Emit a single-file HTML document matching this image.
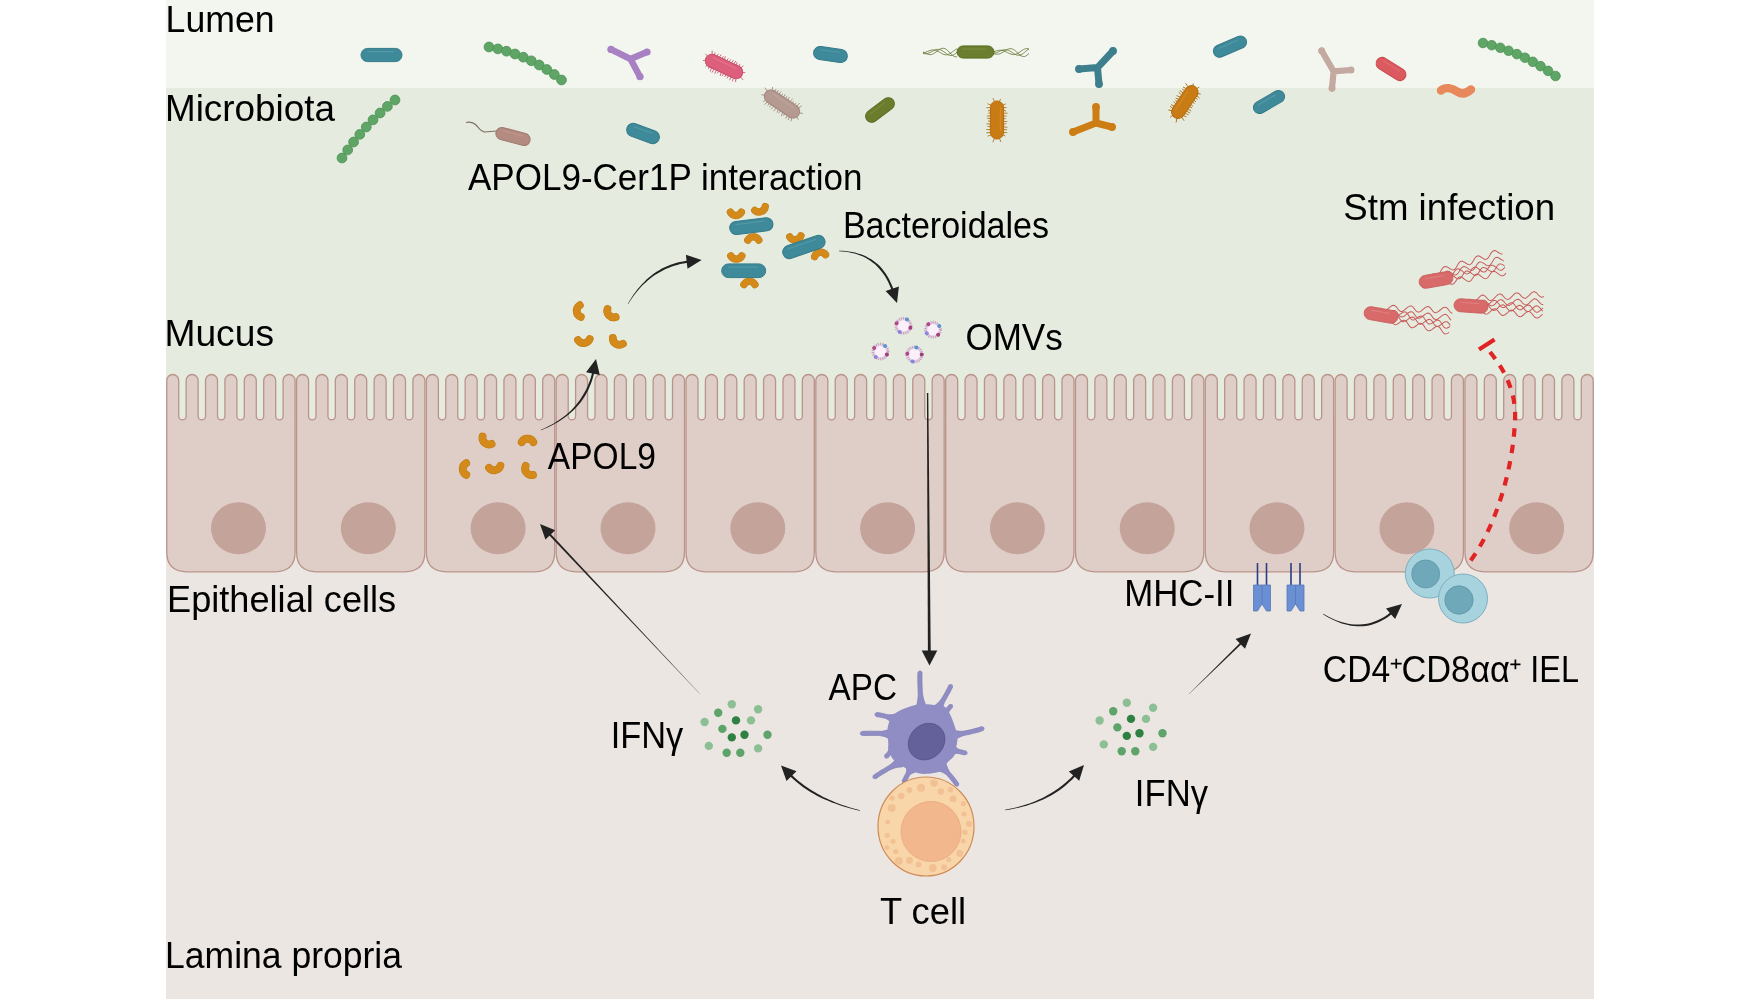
<!DOCTYPE html>
<html><head><meta charset="utf-8"><style>
html,body{margin:0;padding:0;background:#fff;width:1760px;height:1000px;overflow:hidden}
svg{display:block;will-change:transform}
text{font-family:"Liberation Sans",sans-serif;font-size:36.5px;fill:#000}
</style></head><body>
<svg width="1760" height="1000" viewBox="0 0 1760 1000">
<rect x="0" y="0" width="1760" height="1000" fill="#ffffff"/>
<rect x="166" y="0" width="1428" height="88" fill="#f3f6ef"/>
<rect x="166" y="88" width="1428" height="328" fill="#e5ecdf"/>
<rect x="166" y="416" width="1428" height="583" fill="#ebe6e2"/>
<path d="M166.75,551.80 L166.75,380.50 A5.99,5.99 0 0 1 178.74,380.50 L178.74,416.20 A3.70,3.70 0 0 0 186.14,416.20 L186.14,380.50 A5.99,5.99 0 0 1 198.13,380.50 L198.13,416.20 A3.70,3.70 0 0 0 205.53,416.20 L205.53,380.50 A5.99,5.99 0 0 1 217.51,380.50 L217.51,416.20 A3.70,3.70 0 0 0 224.91,416.20 L224.91,380.50 A5.99,5.99 0 0 1 236.90,380.50 L236.90,416.20 A3.70,3.70 0 0 0 244.30,416.20 L244.30,380.50 A5.99,5.99 0 0 1 256.29,380.50 L256.29,416.20 A3.70,3.70 0 0 0 263.69,416.20 L263.69,380.50 A5.99,5.99 0 0 1 275.68,380.50 L275.68,416.20 A3.70,3.70 0 0 0 283.08,416.20 L283.08,380.50 A5.99,5.99 0 0 1 295.07,380.50 L295.07,551.80 Q295.07,571.80 275.07,571.80 L186.75,571.80 Q166.75,571.80 166.75,551.80 Z" fill="#dfcec7" stroke="#b9948a" stroke-width="1.3"/>
<ellipse cx="238.5" cy="528.3" rx="27.5" ry="26" fill="#c3a39a"/>
<path d="M296.57,551.80 L296.57,380.50 A5.99,5.99 0 0 1 308.56,380.50 L308.56,416.20 A3.70,3.70 0 0 0 315.96,416.20 L315.96,380.50 A5.99,5.99 0 0 1 327.94,380.50 L327.94,416.20 A3.70,3.70 0 0 0 335.34,416.20 L335.34,380.50 A5.99,5.99 0 0 1 347.33,380.50 L347.33,416.20 A3.70,3.70 0 0 0 354.73,416.20 L354.73,380.50 A5.99,5.99 0 0 1 366.72,380.50 L366.72,416.20 A3.70,3.70 0 0 0 374.12,416.20 L374.12,380.50 A5.99,5.99 0 0 1 386.11,380.50 L386.11,416.20 A3.70,3.70 0 0 0 393.51,416.20 L393.51,380.50 A5.99,5.99 0 0 1 405.50,380.50 L405.50,416.20 A3.70,3.70 0 0 0 412.90,416.20 L412.90,380.50 A5.99,5.99 0 0 1 424.89,380.50 L424.89,551.80 Q424.89,571.80 404.89,571.80 L316.57,571.80 Q296.57,571.80 296.57,551.80 Z" fill="#dfcec7" stroke="#b9948a" stroke-width="1.3"/>
<ellipse cx="368.3" cy="528.3" rx="27.5" ry="26" fill="#c3a39a"/>
<path d="M426.39,551.80 L426.39,380.50 A5.99,5.99 0 0 1 438.37,380.50 L438.37,416.20 A3.70,3.70 0 0 0 445.77,416.20 L445.77,380.50 A5.99,5.99 0 0 1 457.76,380.50 L457.76,416.20 A3.70,3.70 0 0 0 465.16,416.20 L465.16,380.50 A5.99,5.99 0 0 1 477.15,380.50 L477.15,416.20 A3.70,3.70 0 0 0 484.55,416.20 L484.55,380.50 A5.99,5.99 0 0 1 496.54,380.50 L496.54,416.20 A3.70,3.70 0 0 0 503.94,416.20 L503.94,380.50 A5.99,5.99 0 0 1 515.93,380.50 L515.93,416.20 A3.70,3.70 0 0 0 523.33,416.20 L523.33,380.50 A5.99,5.99 0 0 1 535.32,380.50 L535.32,416.20 A3.70,3.70 0 0 0 542.72,416.20 L542.72,380.50 A5.99,5.99 0 0 1 554.70,380.50 L554.70,551.80 Q554.70,571.80 534.70,571.80 L446.39,571.80 Q426.39,571.80 426.39,551.80 Z" fill="#dfcec7" stroke="#b9948a" stroke-width="1.3"/>
<ellipse cx="498.1" cy="528.3" rx="27.5" ry="26" fill="#c3a39a"/>
<path d="M556.20,551.80 L556.20,380.50 A5.99,5.99 0 0 1 568.19,380.50 L568.19,416.20 A3.70,3.70 0 0 0 575.59,416.20 L575.59,380.50 A5.99,5.99 0 0 1 587.58,380.50 L587.58,416.20 A3.70,3.70 0 0 0 594.98,416.20 L594.98,380.50 A5.99,5.99 0 0 1 606.97,380.50 L606.97,416.20 A3.70,3.70 0 0 0 614.37,416.20 L614.37,380.50 A5.99,5.99 0 0 1 626.36,380.50 L626.36,416.20 A3.70,3.70 0 0 0 633.76,416.20 L633.76,380.50 A5.99,5.99 0 0 1 645.75,380.50 L645.75,416.20 A3.70,3.70 0 0 0 653.15,416.20 L653.15,380.50 A5.99,5.99 0 0 1 665.13,380.50 L665.13,416.20 A3.70,3.70 0 0 0 672.53,416.20 L672.53,380.50 A5.99,5.99 0 0 1 684.52,380.50 L684.52,551.80 Q684.52,571.80 664.52,571.80 L576.20,571.80 Q556.20,571.80 556.20,551.80 Z" fill="#dfcec7" stroke="#b9948a" stroke-width="1.3"/>
<ellipse cx="628.0" cy="528.3" rx="27.5" ry="26" fill="#c3a39a"/>
<path d="M686.02,551.80 L686.02,380.50 A5.99,5.99 0 0 1 698.01,380.50 L698.01,416.20 A3.70,3.70 0 0 0 705.41,416.20 L705.41,380.50 A5.99,5.99 0 0 1 717.40,380.50 L717.40,416.20 A3.70,3.70 0 0 0 724.80,416.20 L724.80,380.50 A5.99,5.99 0 0 1 736.79,380.50 L736.79,416.20 A3.70,3.70 0 0 0 744.19,416.20 L744.19,380.50 A5.99,5.99 0 0 1 756.18,380.50 L756.18,416.20 A3.70,3.70 0 0 0 763.58,416.20 L763.58,380.50 A5.99,5.99 0 0 1 775.56,380.50 L775.56,416.20 A3.70,3.70 0 0 0 782.96,416.20 L782.96,380.50 A5.99,5.99 0 0 1 794.95,380.50 L794.95,416.20 A3.70,3.70 0 0 0 802.35,416.20 L802.35,380.50 A5.99,5.99 0 0 1 814.34,380.50 L814.34,551.80 Q814.34,571.80 794.34,571.80 L706.02,571.80 Q686.02,571.80 686.02,551.80 Z" fill="#dfcec7" stroke="#b9948a" stroke-width="1.3"/>
<ellipse cx="757.8" cy="528.3" rx="27.5" ry="26" fill="#c3a39a"/>
<path d="M815.84,551.80 L815.84,380.50 A5.99,5.99 0 0 1 827.83,380.50 L827.83,416.20 A3.70,3.70 0 0 0 835.23,416.20 L835.23,380.50 A5.99,5.99 0 0 1 847.22,380.50 L847.22,416.20 A3.70,3.70 0 0 0 854.62,416.20 L854.62,380.50 A5.99,5.99 0 0 1 866.61,380.50 L866.61,416.20 A3.70,3.70 0 0 0 874.01,416.20 L874.01,380.50 A5.99,5.99 0 0 1 885.99,380.50 L885.99,416.20 A3.70,3.70 0 0 0 893.39,416.20 L893.39,380.50 A5.99,5.99 0 0 1 905.38,380.50 L905.38,416.20 A3.70,3.70 0 0 0 912.78,416.20 L912.78,380.50 A5.99,5.99 0 0 1 924.77,380.50 L924.77,416.20 A3.70,3.70 0 0 0 932.17,416.20 L932.17,380.50 A5.99,5.99 0 0 1 944.16,380.50 L944.16,551.80 Q944.16,571.80 924.16,571.80 L835.84,571.80 Q815.84,571.80 815.84,551.80 Z" fill="#dfcec7" stroke="#b9948a" stroke-width="1.3"/>
<ellipse cx="887.6" cy="528.3" rx="27.5" ry="26" fill="#c3a39a"/>
<path d="M945.66,551.80 L945.66,380.50 A5.99,5.99 0 0 1 957.65,380.50 L957.65,416.20 A3.70,3.70 0 0 0 965.05,416.20 L965.05,380.50 A5.99,5.99 0 0 1 977.04,380.50 L977.04,416.20 A3.70,3.70 0 0 0 984.44,416.20 L984.44,380.50 A5.99,5.99 0 0 1 996.42,380.50 L996.42,416.20 A3.70,3.70 0 0 0 1003.82,416.20 L1003.82,380.50 A5.99,5.99 0 0 1 1015.81,380.50 L1015.81,416.20 A3.70,3.70 0 0 0 1023.21,416.20 L1023.21,380.50 A5.99,5.99 0 0 1 1035.20,380.50 L1035.20,416.20 A3.70,3.70 0 0 0 1042.60,416.20 L1042.60,380.50 A5.99,5.99 0 0 1 1054.59,380.50 L1054.59,416.20 A3.70,3.70 0 0 0 1061.99,416.20 L1061.99,380.50 A5.99,5.99 0 0 1 1073.98,380.50 L1073.98,551.80 Q1073.98,571.80 1053.98,571.80 L965.66,571.80 Q945.66,571.80 945.66,551.80 Z" fill="#dfcec7" stroke="#b9948a" stroke-width="1.3"/>
<ellipse cx="1017.4" cy="528.3" rx="27.5" ry="26" fill="#c3a39a"/>
<path d="M1075.48,551.80 L1075.48,380.50 A5.99,5.99 0 0 1 1087.47,380.50 L1087.47,416.20 A3.70,3.70 0 0 0 1094.87,416.20 L1094.87,380.50 A5.99,5.99 0 0 1 1106.85,380.50 L1106.85,416.20 A3.70,3.70 0 0 0 1114.25,416.20 L1114.25,380.50 A5.99,5.99 0 0 1 1126.24,380.50 L1126.24,416.20 A3.70,3.70 0 0 0 1133.64,416.20 L1133.64,380.50 A5.99,5.99 0 0 1 1145.63,380.50 L1145.63,416.20 A3.70,3.70 0 0 0 1153.03,416.20 L1153.03,380.50 A5.99,5.99 0 0 1 1165.02,380.50 L1165.02,416.20 A3.70,3.70 0 0 0 1172.42,416.20 L1172.42,380.50 A5.99,5.99 0 0 1 1184.41,380.50 L1184.41,416.20 A3.70,3.70 0 0 0 1191.81,416.20 L1191.81,380.50 A5.99,5.99 0 0 1 1203.80,380.50 L1203.80,551.80 Q1203.80,571.80 1183.80,571.80 L1095.48,571.80 Q1075.48,571.80 1075.48,551.80 Z" fill="#dfcec7" stroke="#b9948a" stroke-width="1.3"/>
<ellipse cx="1147.2" cy="528.3" rx="27.5" ry="26" fill="#c3a39a"/>
<path d="M1205.30,551.80 L1205.30,380.50 A5.99,5.99 0 0 1 1217.28,380.50 L1217.28,416.20 A3.70,3.70 0 0 0 1224.68,416.20 L1224.68,380.50 A5.99,5.99 0 0 1 1236.67,380.50 L1236.67,416.20 A3.70,3.70 0 0 0 1244.07,416.20 L1244.07,380.50 A5.99,5.99 0 0 1 1256.06,380.50 L1256.06,416.20 A3.70,3.70 0 0 0 1263.46,416.20 L1263.46,380.50 A5.99,5.99 0 0 1 1275.45,380.50 L1275.45,416.20 A3.70,3.70 0 0 0 1282.85,416.20 L1282.85,380.50 A5.99,5.99 0 0 1 1294.84,380.50 L1294.84,416.20 A3.70,3.70 0 0 0 1302.24,416.20 L1302.24,380.50 A5.99,5.99 0 0 1 1314.23,380.50 L1314.23,416.20 A3.70,3.70 0 0 0 1321.63,416.20 L1321.63,380.50 A5.99,5.99 0 0 1 1333.61,380.50 L1333.61,551.80 Q1333.61,571.80 1313.61,571.80 L1225.30,571.80 Q1205.30,571.80 1205.30,551.80 Z" fill="#dfcec7" stroke="#b9948a" stroke-width="1.3"/>
<ellipse cx="1277.0" cy="528.3" rx="27.5" ry="26" fill="#c3a39a"/>
<path d="M1335.11,551.80 L1335.11,380.50 A5.99,5.99 0 0 1 1347.10,380.50 L1347.10,416.20 A3.70,3.70 0 0 0 1354.50,416.20 L1354.50,380.50 A5.99,5.99 0 0 1 1366.49,380.50 L1366.49,416.20 A3.70,3.70 0 0 0 1373.89,416.20 L1373.89,380.50 A5.99,5.99 0 0 1 1385.88,380.50 L1385.88,416.20 A3.70,3.70 0 0 0 1393.28,416.20 L1393.28,380.50 A5.99,5.99 0 0 1 1405.27,380.50 L1405.27,416.20 A3.70,3.70 0 0 0 1412.67,416.20 L1412.67,380.50 A5.99,5.99 0 0 1 1424.66,380.50 L1424.66,416.20 A3.70,3.70 0 0 0 1432.06,416.20 L1432.06,380.50 A5.99,5.99 0 0 1 1444.04,380.50 L1444.04,416.20 A3.70,3.70 0 0 0 1451.44,416.20 L1451.44,380.50 A5.99,5.99 0 0 1 1463.43,380.50 L1463.43,551.80 Q1463.43,571.80 1443.43,571.80 L1355.11,571.80 Q1335.11,571.80 1335.11,551.80 Z" fill="#dfcec7" stroke="#b9948a" stroke-width="1.3"/>
<ellipse cx="1406.9" cy="528.3" rx="27.5" ry="26" fill="#c3a39a"/>
<path d="M1464.93,551.80 L1464.93,380.50 A5.99,5.99 0 0 1 1476.92,380.50 L1476.92,416.20 A3.70,3.70 0 0 0 1484.32,416.20 L1484.32,380.50 A5.99,5.99 0 0 1 1496.31,380.50 L1496.31,416.20 A3.70,3.70 0 0 0 1503.71,416.20 L1503.71,380.50 A5.99,5.99 0 0 1 1515.70,380.50 L1515.70,416.20 A3.70,3.70 0 0 0 1523.10,416.20 L1523.10,380.50 A5.99,5.99 0 0 1 1535.09,380.50 L1535.09,416.20 A3.70,3.70 0 0 0 1542.49,416.20 L1542.49,380.50 A5.99,5.99 0 0 1 1554.47,380.50 L1554.47,416.20 A3.70,3.70 0 0 0 1561.87,416.20 L1561.87,380.50 A5.99,5.99 0 0 1 1573.86,380.50 L1573.86,416.20 A3.70,3.70 0 0 0 1581.26,416.20 L1581.26,380.50 A5.99,5.99 0 0 1 1593.25,380.50 L1593.25,551.80 Q1593.25,571.80 1573.25,571.80 L1484.93,571.80 Q1464.93,571.80 1464.93,551.80 Z" fill="#dfcec7" stroke="#b9948a" stroke-width="1.3"/>
<ellipse cx="1536.7" cy="528.3" rx="27.5" ry="26" fill="#c3a39a"/>
<g transform="translate(381.5,55.0) rotate(0.0)"><rect x="-20.5" y="-6.6" width="41.0" height="13.2" rx="6.6" fill="#3f8a9a" stroke="#347a89" stroke-width="1"/><line x1="-13.9" y1="-3.4" x2="11.9" y2="-3.4" stroke="#6aaab6" stroke-width="1.1" stroke-linecap="round" opacity="0.45"/></g>
<circle cx="489.0" cy="47.0" r="4.9" fill="#5ea566" stroke="#4d9257" stroke-width="0.8"/><circle cx="497.9" cy="48.9" r="4.9" fill="#5ea566" stroke="#4d9257" stroke-width="0.8"/><circle cx="506.5" cy="51.2" r="4.9" fill="#5ea566" stroke="#4d9257" stroke-width="0.8"/><circle cx="515.0" cy="54.0" r="4.9" fill="#5ea566" stroke="#4d9257" stroke-width="0.8"/><circle cx="523.3" cy="57.2" r="4.9" fill="#5ea566" stroke="#4d9257" stroke-width="0.8"/><circle cx="531.3" cy="60.8" r="4.9" fill="#5ea566" stroke="#4d9257" stroke-width="0.8"/><circle cx="539.2" cy="65.0" r="4.9" fill="#5ea566" stroke="#4d9257" stroke-width="0.8"/><circle cx="546.8" cy="69.5" r="4.9" fill="#5ea566" stroke="#4d9257" stroke-width="0.8"/><circle cx="554.3" cy="74.5" r="4.9" fill="#5ea566" stroke="#4d9257" stroke-width="0.8"/><circle cx="561.5" cy="80.0" r="4.9" fill="#5ea566" stroke="#4d9257" stroke-width="0.8"/>
<circle cx="342.0" cy="158.0" r="4.9" fill="#5ea566" stroke="#4d9257" stroke-width="0.8"/><circle cx="347.7" cy="149.9" r="4.9" fill="#5ea566" stroke="#4d9257" stroke-width="0.8"/><circle cx="353.6" cy="142.0" r="4.9" fill="#5ea566" stroke="#4d9257" stroke-width="0.8"/><circle cx="359.8" cy="134.4" r="4.9" fill="#5ea566" stroke="#4d9257" stroke-width="0.8"/><circle cx="366.3" cy="127.0" r="4.9" fill="#5ea566" stroke="#4d9257" stroke-width="0.8"/><circle cx="373.0" cy="119.9" r="4.9" fill="#5ea566" stroke="#4d9257" stroke-width="0.8"/><circle cx="380.1" cy="113.0" r="4.9" fill="#5ea566" stroke="#4d9257" stroke-width="0.8"/><circle cx="387.4" cy="106.4" r="4.9" fill="#5ea566" stroke="#4d9257" stroke-width="0.8"/><circle cx="395.0" cy="100.0" r="4.9" fill="#5ea566" stroke="#4d9257" stroke-width="0.8"/>
<path d="M466,122.5 C470,121.5 473,122 476,125 C479,128 481,132 485,132 C489,132 492,131 497,131" stroke="#7f6e64" stroke-width="1.1" fill="none"/>
<g transform="translate(513.0,136.5) rotate(15.0)"><rect x="-17.5" y="-6.1" width="35.0" height="12.2" rx="6.1" fill="#b38b80" stroke="#a07a70" stroke-width="1"/><line x1="-11.4" y1="-2.9" x2="9.4" y2="-2.9" stroke="#c9a59b" stroke-width="1.1" stroke-linecap="round" opacity="0.45"/></g>
<path d="M630.5,59.0 L611.0,49.4 M630.5,59.0 L647.0,52.0 M630.5,59.0 L640.0,76.7" stroke="#a880c4" stroke-width="6.5" stroke-linecap="round" stroke-linejoin="round" fill="none"/>
<circle cx="611.0" cy="49.4" r="3.6" fill="#a880c4"/><circle cx="647.0" cy="52.0" r="3.6" fill="#a880c4"/><circle cx="640.0" cy="76.7" r="3.6" fill="#a880c4"/>
<g transform="translate(724.0,66.5) rotate(25.0)"><line x1="-13.4" y1="-6.6" x2="-14.0" y2="-8.9" stroke="#c8566e" stroke-width="0.8"/><line x1="-13.4" y1="6.6" x2="-13.1" y2="8.7" stroke="#c8566e" stroke-width="0.8"/><line x1="-10.7" y1="-6.6" x2="-10.3" y2="-9.2" stroke="#c8566e" stroke-width="0.8"/><line x1="-10.7" y1="6.6" x2="-10.3" y2="10.5" stroke="#c8566e" stroke-width="0.8"/><line x1="-8.0" y1="-6.6" x2="-7.7" y2="-9.5" stroke="#c8566e" stroke-width="0.8"/><line x1="-8.0" y1="6.6" x2="-8.3" y2="10.6" stroke="#c8566e" stroke-width="0.8"/><line x1="-5.4" y1="-6.6" x2="-4.8" y2="-9.1" stroke="#c8566e" stroke-width="0.8"/><line x1="-5.4" y1="6.6" x2="-5.4" y2="10.5" stroke="#c8566e" stroke-width="0.8"/><line x1="-2.7" y1="-6.6" x2="-3.0" y2="-9.8" stroke="#c8566e" stroke-width="0.8"/><line x1="-2.7" y1="6.6" x2="-3.3" y2="9.2" stroke="#c8566e" stroke-width="0.8"/><line x1="0.0" y1="-6.6" x2="0.5" y2="-9.2" stroke="#c8566e" stroke-width="0.8"/><line x1="0.0" y1="6.6" x2="0.5" y2="10.2" stroke="#c8566e" stroke-width="0.8"/><line x1="2.7" y1="-6.6" x2="3.1" y2="-9.3" stroke="#c8566e" stroke-width="0.8"/><line x1="2.7" y1="6.6" x2="2.3" y2="9.6" stroke="#c8566e" stroke-width="0.8"/><line x1="5.4" y1="-6.6" x2="5.8" y2="-9.7" stroke="#c8566e" stroke-width="0.8"/><line x1="5.4" y1="6.6" x2="5.0" y2="9.3" stroke="#c8566e" stroke-width="0.8"/><line x1="8.0" y1="-6.6" x2="8.4" y2="-10.1" stroke="#c8566e" stroke-width="0.8"/><line x1="8.0" y1="6.6" x2="7.7" y2="9.5" stroke="#c8566e" stroke-width="0.8"/><line x1="10.7" y1="-6.6" x2="10.0" y2="-9.5" stroke="#c8566e" stroke-width="0.8"/><line x1="10.7" y1="6.6" x2="10.9" y2="10.1" stroke="#c8566e" stroke-width="0.8"/><line x1="13.4" y1="-6.6" x2="13.5" y2="-9.2" stroke="#c8566e" stroke-width="0.8"/><line x1="13.4" y1="6.6" x2="13.9" y2="9.9" stroke="#c8566e" stroke-width="0.8"/><line x1="-16.0" y1="-6.1" x2="-17.4" y2="-9.4" stroke="#c8566e" stroke-width="0.8"/><line x1="16.0" y1="-6.1" x2="17.2" y2="-8.9" stroke="#c8566e" stroke-width="0.8"/><line x1="-19.5" y1="-2.5" x2="-22.3" y2="-3.6" stroke="#c8566e" stroke-width="0.8"/><line x1="19.5" y1="-2.5" x2="21.9" y2="-3.4" stroke="#c8566e" stroke-width="0.8"/><line x1="-19.5" y1="2.6" x2="-21.6" y2="3.5" stroke="#c8566e" stroke-width="0.8"/><line x1="19.5" y1="2.6" x2="23.1" y2="4.1" stroke="#c8566e" stroke-width="0.8"/><line x1="-15.9" y1="6.1" x2="-16.7" y2="8.1" stroke="#c8566e" stroke-width="0.8"/><line x1="15.9" y1="6.1" x2="17.1" y2="9.2" stroke="#c8566e" stroke-width="0.8"/><rect x="-20.0" y="-6.6" width="40.0" height="13.2" rx="6.6" fill="#de5f7b" stroke="#c54c68" stroke-width="1"/><line x1="-13.4" y1="-3.4" x2="11.4" y2="-3.4" stroke="#ef8da0" stroke-width="1.1" stroke-linecap="round" opacity="0.45"/></g>
<g transform="translate(830.5,54.5) rotate(8.0)"><rect x="-17.0" y="-6.6" width="34.0" height="13.2" rx="6.6" fill="#3f8a9a" stroke="#347a89" stroke-width="1"/><line x1="-10.4" y1="-3.4" x2="8.4" y2="-3.4" stroke="#6aaab6" stroke-width="1.1" stroke-linecap="round" opacity="0.45"/></g>
<g transform="translate(782.0,104.0) rotate(34.0)"><line x1="-13.4" y1="-6.6" x2="-13.2" y2="-9.3" stroke="#a5857b" stroke-width="0.8"/><line x1="-13.4" y1="6.6" x2="-14.1" y2="10.3" stroke="#a5857b" stroke-width="0.8"/><line x1="-10.7" y1="-6.6" x2="-10.6" y2="-9.4" stroke="#a5857b" stroke-width="0.8"/><line x1="-10.7" y1="6.6" x2="-10.9" y2="9.3" stroke="#a5857b" stroke-width="0.8"/><line x1="-8.0" y1="-6.6" x2="-7.9" y2="-9.8" stroke="#a5857b" stroke-width="0.8"/><line x1="-8.0" y1="6.6" x2="-8.7" y2="9.7" stroke="#a5857b" stroke-width="0.8"/><line x1="-5.4" y1="-6.6" x2="-4.9" y2="-9.0" stroke="#a5857b" stroke-width="0.8"/><line x1="-5.4" y1="6.6" x2="-6.0" y2="10.5" stroke="#a5857b" stroke-width="0.8"/><line x1="-2.7" y1="-6.6" x2="-2.6" y2="-9.9" stroke="#a5857b" stroke-width="0.8"/><line x1="-2.7" y1="6.6" x2="-2.8" y2="10.6" stroke="#a5857b" stroke-width="0.8"/><line x1="0.0" y1="-6.6" x2="-0.3" y2="-9.1" stroke="#a5857b" stroke-width="0.8"/><line x1="0.0" y1="6.6" x2="0.6" y2="9.9" stroke="#a5857b" stroke-width="0.8"/><line x1="2.7" y1="-6.6" x2="2.2" y2="-9.8" stroke="#a5857b" stroke-width="0.8"/><line x1="2.7" y1="6.6" x2="2.2" y2="9.9" stroke="#a5857b" stroke-width="0.8"/><line x1="5.4" y1="-6.6" x2="5.9" y2="-10.4" stroke="#a5857b" stroke-width="0.8"/><line x1="5.4" y1="6.6" x2="6.1" y2="10.6" stroke="#a5857b" stroke-width="0.8"/><line x1="8.0" y1="-6.6" x2="8.0" y2="-8.9" stroke="#a5857b" stroke-width="0.8"/><line x1="8.0" y1="6.6" x2="7.3" y2="9.1" stroke="#a5857b" stroke-width="0.8"/><line x1="10.7" y1="-6.6" x2="10.8" y2="-8.8" stroke="#a5857b" stroke-width="0.8"/><line x1="10.7" y1="6.6" x2="11.2" y2="10.0" stroke="#a5857b" stroke-width="0.8"/><line x1="13.4" y1="-6.6" x2="14.1" y2="-10.8" stroke="#a5857b" stroke-width="0.8"/><line x1="13.4" y1="6.6" x2="13.9" y2="10.0" stroke="#a5857b" stroke-width="0.8"/><line x1="-16.0" y1="-6.1" x2="-17.2" y2="-8.9" stroke="#a5857b" stroke-width="0.8"/><line x1="16.0" y1="-6.1" x2="17.4" y2="-9.4" stroke="#a5857b" stroke-width="0.8"/><line x1="-19.5" y1="-2.5" x2="-23.3" y2="-4.0" stroke="#a5857b" stroke-width="0.8"/><line x1="19.5" y1="-2.5" x2="22.6" y2="-3.7" stroke="#a5857b" stroke-width="0.8"/><line x1="-19.5" y1="2.6" x2="-22.2" y2="3.7" stroke="#a5857b" stroke-width="0.8"/><line x1="19.5" y1="2.6" x2="22.3" y2="3.8" stroke="#a5857b" stroke-width="0.8"/><line x1="-15.9" y1="6.1" x2="-16.9" y2="8.5" stroke="#a5857b" stroke-width="0.8"/><line x1="15.9" y1="6.1" x2="17.1" y2="9.3" stroke="#a5857b" stroke-width="0.8"/><rect x="-20.0" y="-6.6" width="40.0" height="13.2" rx="6.6" fill="#b59a91" stroke="#a3877e" stroke-width="1"/><line x1="-13.4" y1="-3.4" x2="11.4" y2="-3.4" stroke="#c9b2aa" stroke-width="1.1" stroke-linecap="round" opacity="0.45"/></g>
<g transform="translate(880.0,110.0) rotate(-37.0)"><rect x="-16.5" y="-6.1" width="33.0" height="12.2" rx="6.1" fill="#6b7d2d" stroke="#5b6c22" stroke-width="1"/><line x1="-10.4" y1="-2.9" x2="8.4" y2="-2.9" stroke="#8b9c4e" stroke-width="1.1" stroke-linecap="round" opacity="0.45"/></g>
<g transform="translate(643.0,133.5) rotate(20.0)"><rect x="-17.0" y="-6.6" width="34.0" height="13.2" rx="6.6" fill="#3f8a9a" stroke="#347a89" stroke-width="1"/><line x1="-10.4" y1="-3.4" x2="8.4" y2="-3.4" stroke="#6aaab6" stroke-width="1.1" stroke-linecap="round" opacity="0.45"/></g>
<polyline points="923.0,52.0 923.9,52.4 924.7,52.9 925.6,53.3 926.5,53.7 927.4,54.1 928.2,54.3 929.1,54.5 930.0,54.6 930.8,54.6 931.7,54.4 932.6,54.1 933.5,53.7 934.3,53.2 935.2,52.6 936.1,52.0 936.9,51.3 937.8,50.7 938.7,50.0 939.6,49.4 940.4,48.9 941.3,48.6 942.2,48.3 943.1,48.3 943.9,48.3 944.8,48.6 945.7,49.0 946.5,49.6 947.4,50.3 948.3,51.1 949.2,52.0 950.0,52.9 950.9,53.8 951.8,54.7 952.6,55.4 953.5,56.1 954.4,56.5 955.3,56.8 956.1,56.9 957.0,56.8" fill="none" stroke="#5e6e2a" stroke-width="0.8"/><polyline points="994.0,53.7 994.9,53.9 995.8,54.1 996.7,54.2 997.6,54.2 998.5,54.1 999.4,53.9 1000.3,53.6 1001.2,53.2 1002.1,52.7 1003.0,52.1 1003.9,51.5 1004.8,50.9 1005.7,50.4 1006.6,49.8 1007.5,49.3 1008.4,49.0 1009.3,48.7 1010.2,48.6 1011.1,48.7 1011.9,48.9 1012.8,49.2 1013.7,49.7 1014.6,50.3 1015.5,51.0 1016.4,51.8 1017.3,52.6 1018.2,53.5 1019.1,54.3 1020.0,55.0 1020.9,55.6 1021.8,56.1 1022.7,56.4 1023.6,56.5 1024.5,56.5 1025.4,56.2 1026.3,55.7 1027.2,55.0 1028.1,54.2 1029.0,53.3" fill="none" stroke="#5e6e2a" stroke-width="0.8"/><polyline points="923.0,53.5 923.9,53.6 924.7,53.7 925.6,53.7 926.5,53.6 927.4,53.5 928.2,53.2 929.1,52.9 930.0,52.6 930.8,52.1 931.7,51.7 932.6,51.2 933.5,50.7 934.3,50.3 935.2,49.9 936.1,49.6 936.9,49.4 937.8,49.4 938.7,49.4 939.6,49.5 940.4,49.8 941.3,50.2 942.2,50.6 943.1,51.2 943.9,51.8 944.8,52.5 945.7,53.1 946.5,53.8 947.4,54.3 948.3,54.8 949.2,55.2 950.0,55.5 950.9,55.6 951.8,55.5 952.6,55.3 953.5,54.9 954.4,54.4 955.3,53.8 956.1,53.0 957.0,52.2" fill="none" stroke="#5e6e2a" stroke-width="0.8"/><polyline points="994.0,53.3 994.9,53.1 995.8,52.9 996.7,52.5 997.6,52.2 998.5,51.8 999.4,51.4 1000.3,51.0 1001.2,50.6 1002.1,50.3 1003.0,50.0 1003.9,49.8 1004.8,49.7 1005.7,49.7 1006.6,49.8 1007.5,50.0 1008.4,50.3 1009.3,50.7 1010.2,51.2 1011.1,51.7 1011.9,52.3 1012.8,52.9 1013.7,53.5 1014.6,54.0 1015.5,54.5 1016.4,54.9 1017.3,55.1 1018.2,55.3 1019.1,55.2 1020.0,55.1 1020.9,54.8 1021.8,54.3 1022.7,53.8 1023.6,53.1 1024.5,52.4 1025.4,51.6 1026.3,50.8 1027.2,50.1 1028.1,49.4 1029.0,48.8" fill="none" stroke="#5e6e2a" stroke-width="0.8"/><polyline points="923.0,52.9 923.9,52.7 924.7,52.5 925.6,52.2 926.5,51.8 927.4,51.5 928.2,51.2 929.1,50.8 930.0,50.5 930.8,50.3 931.7,50.1 932.6,50.0 933.5,50.0 934.3,50.1 935.2,50.2 936.1,50.5 936.9,50.9 937.8,51.3 938.7,51.7 939.6,52.2 940.4,52.7 941.3,53.2 942.2,53.7 943.1,54.1 943.9,54.5 944.8,54.7 945.7,54.8 946.5,54.8 947.4,54.7 948.3,54.4 949.2,54.0 950.0,53.6 950.9,53.0 951.8,52.4 952.6,51.7 953.5,51.0 954.4,50.4 955.3,49.8 956.1,49.2 957.0,48.8" fill="none" stroke="#5e6e2a" stroke-width="0.8"/><polyline points="994.0,51.6 994.9,51.3 995.8,51.1 996.7,50.8 997.6,50.6 998.5,50.4 999.4,50.3 1000.3,50.2 1001.2,50.3 1002.1,50.4 1003.0,50.6 1003.9,50.9 1004.8,51.3 1005.7,51.7 1006.6,52.1 1007.5,52.6 1008.4,53.0 1009.3,53.5 1010.2,53.8 1011.1,54.2 1011.9,54.4 1012.8,54.5 1013.7,54.6 1014.6,54.5 1015.5,54.3 1016.4,53.9 1017.3,53.5 1018.2,53.0 1019.1,52.5 1020.0,51.9 1020.9,51.2 1021.8,50.6 1022.7,50.0 1023.6,49.5 1024.5,49.1 1025.4,48.8 1026.3,48.7 1027.2,48.6 1028.1,48.8 1029.0,49.1" fill="none" stroke="#5e6e2a" stroke-width="0.8"/>
<g transform="translate(975.5,52.0) rotate(0.0)"><rect x="-18.5" y="-6.1" width="37.0" height="12.2" rx="6.1" fill="#6b7d2e" stroke="#5b6c22" stroke-width="1"/><line x1="-12.4" y1="-2.9" x2="10.4" y2="-2.9" stroke="#8b9c4e" stroke-width="1.1" stroke-linecap="round" opacity="0.45"/></g>
<path d="M1097.5,67.6 L1113.0,51.0 M1097.5,67.6 L1079.0,69.0 M1097.5,67.6 L1099.0,84.0" stroke="#3d7f8d" stroke-width="7" stroke-linecap="round" stroke-linejoin="round" fill="none"/>
<circle cx="1113.0" cy="51.0" r="3.9" fill="#3d7f8d"/><circle cx="1079.0" cy="69.0" r="3.9" fill="#3d7f8d"/><circle cx="1099.0" cy="84.0" r="3.9" fill="#3d7f8d"/>
<g transform="translate(997.0,120.0) rotate(90.0)"><line x1="-12.4" y1="-6.6" x2="-12.5" y2="-9.5" stroke="#a8650c" stroke-width="0.8"/><line x1="-12.4" y1="6.6" x2="-12.3" y2="10.5" stroke="#a8650c" stroke-width="0.8"/><line x1="-9.6" y1="-6.6" x2="-9.0" y2="-9.1" stroke="#a8650c" stroke-width="0.8"/><line x1="-9.6" y1="6.6" x2="-9.1" y2="9.0" stroke="#a8650c" stroke-width="0.8"/><line x1="-6.9" y1="-6.6" x2="-6.7" y2="-10.6" stroke="#a8650c" stroke-width="0.8"/><line x1="-6.9" y1="6.6" x2="-6.9" y2="8.7" stroke="#a8650c" stroke-width="0.8"/><line x1="-4.1" y1="-6.6" x2="-3.8" y2="-9.6" stroke="#a8650c" stroke-width="0.8"/><line x1="-4.1" y1="6.6" x2="-3.9" y2="10.2" stroke="#a8650c" stroke-width="0.8"/><line x1="-1.4" y1="-6.6" x2="-1.3" y2="-8.8" stroke="#a8650c" stroke-width="0.8"/><line x1="-1.4" y1="6.6" x2="-1.7" y2="9.9" stroke="#a8650c" stroke-width="0.8"/><line x1="1.4" y1="-6.6" x2="1.7" y2="-10.3" stroke="#a8650c" stroke-width="0.8"/><line x1="1.4" y1="6.6" x2="0.9" y2="9.0" stroke="#a8650c" stroke-width="0.8"/><line x1="4.1" y1="-6.6" x2="3.7" y2="-9.3" stroke="#a8650c" stroke-width="0.8"/><line x1="4.1" y1="6.6" x2="3.8" y2="10.5" stroke="#a8650c" stroke-width="0.8"/><line x1="6.9" y1="-6.6" x2="7.3" y2="-10.4" stroke="#a8650c" stroke-width="0.8"/><line x1="6.9" y1="6.6" x2="6.2" y2="9.6" stroke="#a8650c" stroke-width="0.8"/><line x1="9.6" y1="-6.6" x2="9.7" y2="-10.1" stroke="#a8650c" stroke-width="0.8"/><line x1="9.6" y1="6.6" x2="9.5" y2="10.7" stroke="#a8650c" stroke-width="0.8"/><line x1="12.4" y1="-6.6" x2="12.7" y2="-10.3" stroke="#a8650c" stroke-width="0.8"/><line x1="12.4" y1="6.6" x2="12.9" y2="10.8" stroke="#a8650c" stroke-width="0.8"/><line x1="-15.0" y1="-6.1" x2="-16.2" y2="-8.9" stroke="#a8650c" stroke-width="0.8"/><line x1="15.0" y1="-6.1" x2="16.0" y2="-8.4" stroke="#a8650c" stroke-width="0.8"/><line x1="-18.5" y1="-2.5" x2="-21.1" y2="-3.5" stroke="#a8650c" stroke-width="0.8"/><line x1="18.5" y1="-2.5" x2="22.0" y2="-3.9" stroke="#a8650c" stroke-width="0.8"/><line x1="-18.5" y1="2.6" x2="-21.8" y2="4.0" stroke="#a8650c" stroke-width="0.8"/><line x1="18.5" y1="2.6" x2="22.3" y2="4.2" stroke="#a8650c" stroke-width="0.8"/><line x1="-14.9" y1="6.1" x2="-16.3" y2="9.6" stroke="#a8650c" stroke-width="0.8"/><line x1="14.9" y1="6.1" x2="16.2" y2="9.4" stroke="#a8650c" stroke-width="0.8"/><rect x="-19.0" y="-6.6" width="38.0" height="13.2" rx="6.6" fill="#c97b14" stroke="#b56c0c" stroke-width="1"/><line x1="-12.4" y1="-3.4" x2="10.4" y2="-3.4" stroke="#dd9a40" stroke-width="1.1" stroke-linecap="round" opacity="0.45"/></g>
<path d="M1096.0,123.0 L1096.0,107.0 M1096.0,123.0 L1073.0,132.0 M1096.0,123.0 L1112.0,127.0" stroke="#cc7d14" stroke-width="7" stroke-linecap="round" stroke-linejoin="round" fill="none"/>
<circle cx="1096.0" cy="107.0" r="3.9" fill="#cc7d14"/><circle cx="1073.0" cy="132.0" r="3.9" fill="#cc7d14"/><circle cx="1112.0" cy="127.0" r="3.9" fill="#cc7d14"/>
<g transform="translate(1230.0,46.6) rotate(-23.0)"><rect x="-17.5" y="-6.1" width="35.0" height="12.2" rx="6.1" fill="#3f8a9a" stroke="#347a89" stroke-width="1"/><line x1="-11.4" y1="-2.9" x2="9.4" y2="-2.9" stroke="#6aaab6" stroke-width="1.1" stroke-linecap="round" opacity="0.45"/></g>
<g transform="translate(1184.8,102.0) rotate(-56.0)"><line x1="-11.9" y1="-6.6" x2="-11.8" y2="-9.8" stroke="#a8650c" stroke-width="0.8"/><line x1="-11.9" y1="6.6" x2="-11.5" y2="9.7" stroke="#a8650c" stroke-width="0.8"/><line x1="-9.3" y1="-6.6" x2="-9.9" y2="-9.9" stroke="#a8650c" stroke-width="0.8"/><line x1="-9.3" y1="6.6" x2="-8.6" y2="10.3" stroke="#a8650c" stroke-width="0.8"/><line x1="-6.6" y1="-6.6" x2="-5.9" y2="-9.6" stroke="#a8650c" stroke-width="0.8"/><line x1="-6.6" y1="6.6" x2="-6.2" y2="10.6" stroke="#a8650c" stroke-width="0.8"/><line x1="-4.0" y1="-6.6" x2="-3.8" y2="-8.9" stroke="#a8650c" stroke-width="0.8"/><line x1="-4.0" y1="6.6" x2="-4.0" y2="10.3" stroke="#a8650c" stroke-width="0.8"/><line x1="-1.3" y1="-6.6" x2="-1.9" y2="-9.8" stroke="#a8650c" stroke-width="0.8"/><line x1="-1.3" y1="6.6" x2="-0.8" y2="9.4" stroke="#a8650c" stroke-width="0.8"/><line x1="1.3" y1="-6.6" x2="0.8" y2="-10.4" stroke="#a8650c" stroke-width="0.8"/><line x1="1.3" y1="6.6" x2="1.1" y2="9.2" stroke="#a8650c" stroke-width="0.8"/><line x1="4.0" y1="-6.6" x2="4.7" y2="-10.5" stroke="#a8650c" stroke-width="0.8"/><line x1="4.0" y1="6.6" x2="4.4" y2="8.9" stroke="#a8650c" stroke-width="0.8"/><line x1="6.6" y1="-6.6" x2="6.7" y2="-10.6" stroke="#a8650c" stroke-width="0.8"/><line x1="6.6" y1="6.6" x2="6.4" y2="9.2" stroke="#a8650c" stroke-width="0.8"/><line x1="9.3" y1="-6.6" x2="9.3" y2="-9.3" stroke="#a8650c" stroke-width="0.8"/><line x1="9.3" y1="6.6" x2="9.3" y2="9.1" stroke="#a8650c" stroke-width="0.8"/><line x1="11.9" y1="-6.6" x2="11.4" y2="-9.9" stroke="#a8650c" stroke-width="0.8"/><line x1="11.9" y1="6.6" x2="11.5" y2="10.0" stroke="#a8650c" stroke-width="0.8"/><line x1="-14.5" y1="-6.1" x2="-15.8" y2="-9.2" stroke="#a8650c" stroke-width="0.8"/><line x1="14.5" y1="-6.1" x2="16.0" y2="-9.8" stroke="#a8650c" stroke-width="0.8"/><line x1="-18.0" y1="-2.5" x2="-20.7" y2="-3.6" stroke="#a8650c" stroke-width="0.8"/><line x1="18.0" y1="-2.5" x2="20.1" y2="-3.3" stroke="#a8650c" stroke-width="0.8"/><line x1="-18.0" y1="2.6" x2="-21.8" y2="4.2" stroke="#a8650c" stroke-width="0.8"/><line x1="18.0" y1="2.6" x2="20.5" y2="3.6" stroke="#a8650c" stroke-width="0.8"/><line x1="-14.4" y1="6.1" x2="-15.9" y2="9.9" stroke="#a8650c" stroke-width="0.8"/><line x1="14.4" y1="6.1" x2="15.4" y2="8.8" stroke="#a8650c" stroke-width="0.8"/><rect x="-18.5" y="-6.6" width="37.0" height="13.2" rx="6.6" fill="#c97b14" stroke="#b56c0c" stroke-width="1"/><line x1="-11.9" y1="-3.4" x2="9.9" y2="-3.4" stroke="#dd9a40" stroke-width="1.1" stroke-linecap="round" opacity="0.45"/></g>
<g transform="translate(1269.0,102.0) rotate(-30.0)"><rect x="-17.0" y="-6.1" width="34.0" height="12.2" rx="6.1" fill="#3f8a9a" stroke="#347a89" stroke-width="1"/><line x1="-10.9" y1="-2.9" x2="8.9" y2="-2.9" stroke="#6aaab6" stroke-width="1.1" stroke-linecap="round" opacity="0.45"/></g>
<path d="M1333.6,71.4 L1321.7,50.7 M1333.6,71.4 L1351.0,70.0 M1333.6,71.4 L1332.0,88.3" stroke="#c4a9a1" stroke-width="6.2" stroke-linecap="round" stroke-linejoin="round" fill="none"/>
<circle cx="1321.7" cy="50.7" r="3.5" fill="#c4a9a1"/><circle cx="1351.0" cy="70.0" r="3.5" fill="#c4a9a1"/><circle cx="1332.0" cy="88.3" r="3.5" fill="#c4a9a1"/>
<g transform="translate(1391.0,69.0) rotate(32.0)"><rect x="-16.5" y="-6.1" width="33.0" height="12.2" rx="6.1" fill="#db5a5f" stroke="#c84b50" stroke-width="1"/><line x1="-10.4" y1="-2.9" x2="8.4" y2="-2.9" stroke="#e98488" stroke-width="1.1" stroke-linecap="round" opacity="0.45"/></g>
<circle cx="1483.0" cy="43.0" r="4.8" fill="#5ea566" stroke="#4d9257" stroke-width="0.8"/><circle cx="1491.7" cy="45.2" r="4.8" fill="#5ea566" stroke="#4d9257" stroke-width="0.8"/><circle cx="1500.3" cy="47.8" r="4.8" fill="#5ea566" stroke="#4d9257" stroke-width="0.8"/><circle cx="1508.6" cy="50.8" r="4.8" fill="#5ea566" stroke="#4d9257" stroke-width="0.8"/><circle cx="1516.9" cy="54.1" r="4.8" fill="#5ea566" stroke="#4d9257" stroke-width="0.8"/><circle cx="1524.9" cy="57.7" r="4.8" fill="#5ea566" stroke="#4d9257" stroke-width="0.8"/><circle cx="1532.8" cy="61.8" r="4.8" fill="#5ea566" stroke="#4d9257" stroke-width="0.8"/><circle cx="1540.5" cy="66.1" r="4.8" fill="#5ea566" stroke="#4d9257" stroke-width="0.8"/><circle cx="1548.1" cy="70.9" r="4.8" fill="#5ea566" stroke="#4d9257" stroke-width="0.8"/><circle cx="1555.5" cy="76.0" r="4.8" fill="#5ea566" stroke="#4d9257" stroke-width="0.8"/>
<path d="M1441,90.5 C1445,86.5 1452,88 1458,92 C1463,95 1467,93 1471,89.5" stroke="#e8895c" stroke-width="8.5" stroke-linecap="round" fill="none"/>
<path d="M491.6,443.9 A6.6,6.6 0 0 1 482.6,436.5" stroke="#bf7a12" stroke-width="7.8" stroke-linecap="round" fill="none"/><path d="M491.6,443.9 A6.6,6.6 0 0 1 482.6,436.5" stroke="#d38a1a" stroke-width="6.8" stroke-linecap="round" fill="none"/>
<path d="M521.7,442.2 A6.6,6.6 0 0 1 533.3,442.2" stroke="#bf7a12" stroke-width="7.8" stroke-linecap="round" fill="none"/><path d="M521.7,442.2 A6.6,6.6 0 0 1 533.3,442.2" stroke="#d38a1a" stroke-width="6.8" stroke-linecap="round" fill="none"/>
<path d="M466.2,474.8 A6.6,6.6 0 0 1 466.2,463.2" stroke="#bf7a12" stroke-width="7.8" stroke-linecap="round" fill="none"/><path d="M466.2,474.8 A6.6,6.6 0 0 1 466.2,463.2" stroke="#d38a1a" stroke-width="6.8" stroke-linecap="round" fill="none"/>
<path d="M500.4,465.8 A6.6,6.6 0 0 1 489.0,467.8" stroke="#bf7a12" stroke-width="7.8" stroke-linecap="round" fill="none"/><path d="M500.4,465.8 A6.6,6.6 0 0 1 489.0,467.8" stroke="#d38a1a" stroke-width="6.8" stroke-linecap="round" fill="none"/>
<path d="M533.0,474.9 A6.6,6.6 0 0 1 525.6,465.9" stroke="#bf7a12" stroke-width="7.8" stroke-linecap="round" fill="none"/><path d="M533.0,474.9 A6.6,6.6 0 0 1 525.6,465.9" stroke="#d38a1a" stroke-width="6.8" stroke-linecap="round" fill="none"/>
<path d="M580.8,316.9 A6.6,6.6 0 0 1 579.8,305.2" stroke="#bf7a12" stroke-width="7.8" stroke-linecap="round" fill="none"/><path d="M580.8,316.9 A6.6,6.6 0 0 1 579.8,305.2" stroke="#d38a1a" stroke-width="6.8" stroke-linecap="round" fill="none"/>
<path d="M615.7,317.1 A6.6,6.6 0 0 1 607.5,308.9" stroke="#bf7a12" stroke-width="7.8" stroke-linecap="round" fill="none"/><path d="M615.7,317.1 A6.6,6.6 0 0 1 607.5,308.9" stroke="#d38a1a" stroke-width="6.8" stroke-linecap="round" fill="none"/>
<path d="M589.7,339.0 A6.6,6.6 0 0 1 578.0,340.0" stroke="#bf7a12" stroke-width="7.8" stroke-linecap="round" fill="none"/><path d="M589.7,339.0 A6.6,6.6 0 0 1 578.0,340.0" stroke="#d38a1a" stroke-width="6.8" stroke-linecap="round" fill="none"/>
<path d="M622.9,343.8 A6.6,6.6 0 0 1 612.8,338.0" stroke="#bf7a12" stroke-width="7.8" stroke-linecap="round" fill="none"/><path d="M622.9,343.8 A6.6,6.6 0 0 1 612.8,338.0" stroke="#d38a1a" stroke-width="6.8" stroke-linecap="round" fill="none"/>
<path d="M741.4,212.2 A6.3,6.3 0 0 1 730.4,212.2" stroke="#bf7a12" stroke-width="7.4" stroke-linecap="round" fill="none"/><path d="M741.4,212.2 A6.3,6.3 0 0 1 730.4,212.2" stroke="#d38a1a" stroke-width="6.5" stroke-linecap="round" fill="none"/>
<path d="M765.2,206.6 A6.3,6.3 0 0 1 754.8,210.4" stroke="#bf7a12" stroke-width="7.4" stroke-linecap="round" fill="none"/><path d="M765.2,206.6 A6.3,6.3 0 0 1 754.8,210.4" stroke="#d38a1a" stroke-width="6.5" stroke-linecap="round" fill="none"/>
<path d="M747.8,240.1 A6.3,6.3 0 0 1 758.8,240.1" stroke="#bf7a12" stroke-width="7.4" stroke-linecap="round" fill="none"/><path d="M747.8,240.1 A6.3,6.3 0 0 1 758.8,240.1" stroke="#d38a1a" stroke-width="6.5" stroke-linecap="round" fill="none"/>
<path d="M741.8,255.9 A6.3,6.3 0 0 1 730.8,255.9" stroke="#bf7a12" stroke-width="7.4" stroke-linecap="round" fill="none"/><path d="M741.8,255.9 A6.3,6.3 0 0 1 730.8,255.9" stroke="#d38a1a" stroke-width="6.5" stroke-linecap="round" fill="none"/>
<path d="M743.9,284.6 A6.3,6.3 0 0 1 754.9,284.6" stroke="#bf7a12" stroke-width="7.4" stroke-linecap="round" fill="none"/><path d="M743.9,284.6 A6.3,6.3 0 0 1 754.9,284.6" stroke="#d38a1a" stroke-width="6.5" stroke-linecap="round" fill="none"/>
<path d="M800.9,235.9 A6.3,6.3 0 0 1 789.8,236.9" stroke="#bf7a12" stroke-width="7.4" stroke-linecap="round" fill="none"/><path d="M800.9,235.9 A6.3,6.3 0 0 1 789.8,236.9" stroke="#d38a1a" stroke-width="6.5" stroke-linecap="round" fill="none"/>
<path d="M814.6,256.6 A6.3,6.3 0 0 1 825.5,254.6" stroke="#bf7a12" stroke-width="7.4" stroke-linecap="round" fill="none"/><path d="M814.6,256.6 A6.3,6.3 0 0 1 825.5,254.6" stroke="#d38a1a" stroke-width="6.5" stroke-linecap="round" fill="none"/>
<g transform="translate(751.4,226.1) rotate(-7.0)"><rect x="-21.8" y="-6.6" width="43.5" height="13.2" rx="6.6" fill="#3f8a9a" stroke="#347a89" stroke-width="1"/><line x1="-15.2" y1="-3.4" x2="13.2" y2="-3.4" stroke="#6aaab6" stroke-width="1.1" stroke-linecap="round" opacity="0.45"/></g>
<g transform="translate(743.7,270.7) rotate(0.0)"><rect x="-22.0" y="-6.8" width="44.0" height="13.7" rx="6.8" fill="#3f8a9a" stroke="#347a89" stroke-width="1"/><line x1="-15.2" y1="-3.6" x2="13.2" y2="-3.6" stroke="#6aaab6" stroke-width="1.1" stroke-linecap="round" opacity="0.45"/></g>
<g transform="translate(803.9,247.0) rotate(-19.0)"><rect x="-22.0" y="-6.6" width="44.0" height="13.2" rx="6.6" fill="#3f8a9a" stroke="#347a89" stroke-width="1"/><line x1="-15.4" y1="-3.4" x2="13.4" y2="-3.4" stroke="#6aaab6" stroke-width="1.1" stroke-linecap="round" opacity="0.45"/></g>
<circle cx="903.4" cy="325.8" r="7.6" fill="#e9d3e6" stroke="#c8a4c3" stroke-width="2.6" stroke-dasharray="1.2 1"/><circle cx="903.4" cy="325.8" r="5.6" fill="#fbf0fa"/><circle cx="907.0" cy="319.6" r="2.0" fill="#4d8ed2" opacity="0.9"/><circle cx="910.4" cy="327.7" r="2.0" fill="#9a2f70" opacity="0.9"/><circle cx="899.8" cy="332.0" r="2.0" fill="#7f80de" opacity="0.9"/><circle cx="896.6" cy="323.3" r="2.0" fill="#a8387f" opacity="0.9"/>
<circle cx="933" cy="329.7" r="7.6" fill="#e9d3e6" stroke="#c8a4c3" stroke-width="2.6" stroke-dasharray="1.2 1"/><circle cx="933" cy="329.7" r="5.6" fill="#fbf0fa"/><circle cx="939.2" cy="326.1" r="2.0" fill="#4d8ed2" opacity="0.9"/><circle cx="938.1" cy="334.8" r="2.0" fill="#9a2f70" opacity="0.9"/><circle cx="926.8" cy="333.3" r="2.0" fill="#7f80de" opacity="0.9"/><circle cx="928.4" cy="324.2" r="2.0" fill="#a8387f" opacity="0.9"/>
<circle cx="880.4" cy="351.5" r="7.6" fill="#e9d3e6" stroke="#c8a4c3" stroke-width="2.6" stroke-dasharray="1.2 1"/><circle cx="880.4" cy="351.5" r="5.6" fill="#fbf0fa"/><circle cx="885.0" cy="346.0" r="2.0" fill="#4d8ed2" opacity="0.9"/><circle cx="886.9" cy="354.5" r="2.0" fill="#9a2f70" opacity="0.9"/><circle cx="875.8" cy="357.0" r="2.0" fill="#7f80de" opacity="0.9"/><circle cx="874.2" cy="347.9" r="2.0" fill="#a8387f" opacity="0.9"/>
<circle cx="914.5" cy="354.4" r="7.6" fill="#e9d3e6" stroke="#c8a4c3" stroke-width="2.6" stroke-dasharray="1.2 1"/><circle cx="914.5" cy="354.4" r="5.6" fill="#fbf0fa"/><circle cx="916.4" cy="347.4" r="2.0" fill="#4d8ed2" opacity="0.9"/><circle cx="921.7" cy="354.4" r="2.0" fill="#9a2f70" opacity="0.9"/><circle cx="912.6" cy="361.4" r="2.0" fill="#7f80de" opacity="0.9"/><circle cx="907.3" cy="353.8" r="2.0" fill="#a8387f" opacity="0.9"/>
<g transform="translate(1436,280) rotate(-10)"><polyline points="-2.0,-7.0 -1.0,-6.0 0.1,-5.2 1.1,-4.7 2.2,-4.6 3.2,-4.9 4.3,-5.7 5.3,-6.7 6.3,-8.0 7.4,-9.3 8.4,-10.4 9.5,-11.3 10.5,-11.7 11.6,-11.7 12.6,-11.3 13.7,-10.6 14.7,-9.7 15.7,-8.7 16.8,-7.8 17.8,-7.2 18.9,-6.9 19.9,-7.1 21.0,-7.8 22.0,-8.8 23.0,-10.0 24.1,-11.3 25.1,-12.5 26.2,-13.4 27.2,-14.0 28.3,-14.1 29.3,-13.9 30.3,-13.2 31.4,-12.3 32.4,-11.3 33.5,-10.4 34.5,-9.7 35.6,-9.3 36.6,-9.4 37.7,-9.9 38.7,-10.8 39.7,-12.0 40.8,-13.3 41.8,-14.5 42.9,-15.5 43.9,-16.2 45.0,-16.5 46.0,-16.4 47.0,-15.8 48.1,-14.9 49.1,-14.0 50.2,-13.0 51.2,-12.2 52.3,-11.7 53.3,-11.7 54.3,-12.1 55.4,-12.9 56.4,-14.0 57.5,-15.2 58.5,-16.5 59.6,-17.6 60.6,-18.4 61.7,-18.8 62.7,-18.8 63.7,-18.4 64.8,-17.6 65.8,-16.6 66.9,-15.6 67.9,-14.8 69.0,-14.2 70.0,-14.0" fill="none" stroke="#c95b5b" stroke-width="1.0"/><polyline points="4.0,-0.0 5.0,-0.4 5.9,-1.2 6.9,-2.2 7.8,-3.3 8.8,-4.4 9.7,-5.5 10.7,-6.2 11.7,-6.7 12.6,-6.8 13.6,-6.5 14.5,-6.0 15.5,-5.1 16.4,-4.2 17.4,-3.2 18.3,-2.4 19.3,-1.9 20.3,-1.6 21.2,-1.8 22.2,-2.3 23.1,-3.1 24.1,-4.1 25.0,-5.2 26.0,-6.4 27.0,-7.3 27.9,-8.0 28.9,-8.4 29.8,-8.5 30.8,-8.1 31.7,-7.5 32.7,-6.6 33.7,-5.6 34.6,-4.7 35.6,-4.0 36.5,-3.5 37.5,-3.3 38.4,-3.5 39.4,-4.1 40.3,-5.0 41.3,-6.0 42.3,-7.2 43.2,-8.3 44.2,-9.2 45.1,-9.8 46.1,-10.1 47.0,-10.1 48.0,-9.7 49.0,-9.0 49.9,-8.1 50.9,-7.1 51.8,-6.2 52.8,-5.5 53.7,-5.1 54.7,-5.0 55.7,-5.3 56.6,-5.9 57.6,-6.9 58.5,-8.0 59.5,-9.1 60.4,-10.2 61.4,-11.0 62.3,-11.6 63.3,-11.8 64.3,-11.7 65.2,-11.2 66.2,-10.4 67.1,-9.5 68.1,-8.6 69.0,-7.7 70.0,-7.0" fill="none" stroke="#c95b5b" stroke-width="1.0"/><polyline points="-6.0,0.2 -4.9,-0.9 -3.8,-1.7 -2.7,-2.1 -1.6,-2.0 -0.5,-1.5 0.6,-0.5 1.7,0.6 2.8,1.7 3.9,2.7 5.0,3.3 6.1,3.5 7.2,3.2 8.3,2.4 9.4,1.4 10.5,0.1 11.6,-1.1 12.7,-2.1 13.8,-2.7 14.9,-2.8 16.0,-2.4 17.1,-1.6 18.2,-0.6 19.3,0.6 20.4,1.7 21.5,2.5 22.6,2.8 23.7,2.7 24.8,2.1 25.9,1.2 27.0,-0.0 28.1,-1.3 29.2,-2.4 30.3,-3.1 31.4,-3.5 32.6,-3.3 33.7,-2.7 34.8,-1.7 35.9,-0.6 37.0,0.5 38.1,1.5 39.2,2.1 40.3,2.2 41.4,1.8 42.5,1.0 43.6,-0.2 44.7,-1.4 45.8,-2.6 46.9,-3.5 48.0,-4.1 49.1,-4.1 50.2,-3.7 51.3,-2.9 52.4,-1.8 53.5,-0.6 54.6,0.4 55.7,1.2 56.8,1.5 57.9,1.3 59.0,0.7 60.1,-0.3 61.2,-1.5 62.3,-2.8 63.4,-3.8 64.5,-4.6 65.6,-4.8 66.7,-4.6 67.8,-3.9 68.9,-2.9 70.0,-1.8" fill="none" stroke="#c95b5b" stroke-width="1.0"/><polyline points="8.0,1.2 8.9,1.8 9.8,2.5 10.7,3.5 11.6,4.5 12.5,5.4 13.4,6.2 14.3,6.8 15.2,7.0 16.1,7.0 17.0,6.6 17.9,5.9 18.8,5.1 19.7,4.1 20.6,3.1 21.5,2.3 22.4,1.6 23.3,1.2 24.2,1.1 25.1,1.4 26.0,1.9 26.9,2.7 27.8,3.7 28.7,4.7 29.6,5.6 30.5,6.4 31.4,6.9 32.3,7.2 33.2,7.1 34.1,6.7 35.0,6.0 35.9,5.1 36.8,4.2 37.7,3.2 38.6,2.4 39.4,1.7 40.3,1.3 41.2,1.3 42.1,1.6 43.0,2.1 43.9,2.9 44.8,3.9 45.7,4.9 46.6,5.8 47.5,6.6 48.4,7.1 49.3,7.3 50.2,7.2 51.1,6.8 52.0,6.1 52.9,5.2 53.8,4.2 54.7,3.3 55.6,2.4 56.5,1.8 57.4,1.5 58.3,1.4 59.2,1.7 60.1,2.3 61.0,3.2 61.9,4.1 62.8,5.1 63.7,6.0 64.6,6.8 65.5,7.3 66.4,7.5 67.3,7.3 68.2,6.9 69.1,6.2 70.0,5.3" fill="none" stroke="#c95b5b" stroke-width="1.0"/><polyline points="12.0,-3.5 12.8,-2.7 13.7,-2.2 14.5,-1.8 15.4,-1.8 16.2,-2.1 17.0,-2.6 17.9,-3.3 18.7,-4.1 19.6,-5.0 20.4,-5.8 21.2,-6.5 22.1,-7.0 22.9,-7.2 23.8,-7.2 24.6,-6.8 25.4,-6.2 26.3,-5.4 27.1,-4.5 28.0,-3.5 28.8,-2.5 29.7,-1.7 30.5,-1.1 31.3,-0.7 32.2,-0.6 33.0,-0.8 33.9,-1.3 34.7,-1.9 35.5,-2.8 36.4,-3.6 37.2,-4.5 38.1,-5.2 38.9,-5.7 39.7,-6.0 40.6,-6.0 41.4,-5.7 42.3,-5.2 43.1,-4.4 43.9,-3.5 44.8,-2.5 45.6,-1.6 46.5,-0.7 47.3,-0.0 48.1,0.4 49.0,0.5 49.8,0.4 50.7,0.0 51.5,-0.6 52.3,-1.4 53.2,-2.3 54.0,-3.1 54.9,-3.9 55.7,-4.5 56.6,-4.8 57.4,-4.9 58.2,-4.7 59.1,-4.2 59.9,-3.4 60.8,-2.6 61.6,-1.6 62.4,-0.6 63.3,0.3 64.1,1.0 65.0,1.5 65.8,1.7 66.6,1.6 67.5,1.3 68.3,0.7 69.2,-0.0 70.0,-0.9" fill="none" stroke="#c95b5b" stroke-width="1.0"/><rect x="-17" y="-6.5" width="34" height="13" rx="6.5" fill="#d86a6a" stroke="#c85a5a" stroke-width="0.8"/><line x1="-11" y1="-3" x2="8" y2="-3" stroke="#e89090" stroke-width="1.2" opacity="0.5"/></g>
<g transform="translate(1381,315) rotate(10)"><polyline points="-2.0,-7.0 -1.0,-6.0 0.1,-5.2 1.1,-4.7 2.2,-4.6 3.2,-4.9 4.3,-5.7 5.3,-6.7 6.3,-8.0 7.4,-9.3 8.4,-10.4 9.5,-11.3 10.5,-11.7 11.6,-11.7 12.6,-11.3 13.7,-10.6 14.7,-9.7 15.7,-8.7 16.8,-7.8 17.8,-7.2 18.9,-6.9 19.9,-7.1 21.0,-7.8 22.0,-8.8 23.0,-10.0 24.1,-11.3 25.1,-12.5 26.2,-13.4 27.2,-14.0 28.3,-14.1 29.3,-13.9 30.3,-13.2 31.4,-12.3 32.4,-11.3 33.5,-10.4 34.5,-9.7 35.6,-9.3 36.6,-9.4 37.7,-9.9 38.7,-10.8 39.7,-12.0 40.8,-13.3 41.8,-14.5 42.9,-15.5 43.9,-16.2 45.0,-16.5 46.0,-16.4 47.0,-15.8 48.1,-14.9 49.1,-14.0 50.2,-13.0 51.2,-12.2 52.3,-11.7 53.3,-11.7 54.3,-12.1 55.4,-12.9 56.4,-14.0 57.5,-15.2 58.5,-16.5 59.6,-17.6 60.6,-18.4 61.7,-18.8 62.7,-18.8 63.7,-18.4 64.8,-17.6 65.8,-16.6 66.9,-15.6 67.9,-14.8 69.0,-14.2 70.0,-14.0" fill="none" stroke="#c95b5b" stroke-width="1.0"/><polyline points="4.0,-0.0 5.0,-0.4 5.9,-1.2 6.9,-2.2 7.8,-3.3 8.8,-4.4 9.7,-5.5 10.7,-6.2 11.7,-6.7 12.6,-6.8 13.6,-6.5 14.5,-6.0 15.5,-5.1 16.4,-4.2 17.4,-3.2 18.3,-2.4 19.3,-1.9 20.3,-1.6 21.2,-1.8 22.2,-2.3 23.1,-3.1 24.1,-4.1 25.0,-5.2 26.0,-6.4 27.0,-7.3 27.9,-8.0 28.9,-8.4 29.8,-8.5 30.8,-8.1 31.7,-7.5 32.7,-6.6 33.7,-5.6 34.6,-4.7 35.6,-4.0 36.5,-3.5 37.5,-3.3 38.4,-3.5 39.4,-4.1 40.3,-5.0 41.3,-6.0 42.3,-7.2 43.2,-8.3 44.2,-9.2 45.1,-9.8 46.1,-10.1 47.0,-10.1 48.0,-9.7 49.0,-9.0 49.9,-8.1 50.9,-7.1 51.8,-6.2 52.8,-5.5 53.7,-5.1 54.7,-5.0 55.7,-5.3 56.6,-5.9 57.6,-6.9 58.5,-8.0 59.5,-9.1 60.4,-10.2 61.4,-11.0 62.3,-11.6 63.3,-11.8 64.3,-11.7 65.2,-11.2 66.2,-10.4 67.1,-9.5 68.1,-8.6 69.0,-7.7 70.0,-7.0" fill="none" stroke="#c95b5b" stroke-width="1.0"/><polyline points="-6.0,0.2 -4.9,-0.9 -3.8,-1.7 -2.7,-2.1 -1.6,-2.0 -0.5,-1.5 0.6,-0.5 1.7,0.6 2.8,1.7 3.9,2.7 5.0,3.3 6.1,3.5 7.2,3.2 8.3,2.4 9.4,1.4 10.5,0.1 11.6,-1.1 12.7,-2.1 13.8,-2.7 14.9,-2.8 16.0,-2.4 17.1,-1.6 18.2,-0.6 19.3,0.6 20.4,1.7 21.5,2.5 22.6,2.8 23.7,2.7 24.8,2.1 25.9,1.2 27.0,-0.0 28.1,-1.3 29.2,-2.4 30.3,-3.1 31.4,-3.5 32.6,-3.3 33.7,-2.7 34.8,-1.7 35.9,-0.6 37.0,0.5 38.1,1.5 39.2,2.1 40.3,2.2 41.4,1.8 42.5,1.0 43.6,-0.2 44.7,-1.4 45.8,-2.6 46.9,-3.5 48.0,-4.1 49.1,-4.1 50.2,-3.7 51.3,-2.9 52.4,-1.8 53.5,-0.6 54.6,0.4 55.7,1.2 56.8,1.5 57.9,1.3 59.0,0.7 60.1,-0.3 61.2,-1.5 62.3,-2.8 63.4,-3.8 64.5,-4.6 65.6,-4.8 66.7,-4.6 67.8,-3.9 68.9,-2.9 70.0,-1.8" fill="none" stroke="#c95b5b" stroke-width="1.0"/><polyline points="8.0,1.2 8.9,1.8 9.8,2.5 10.7,3.5 11.6,4.5 12.5,5.4 13.4,6.2 14.3,6.8 15.2,7.0 16.1,7.0 17.0,6.6 17.9,5.9 18.8,5.1 19.7,4.1 20.6,3.1 21.5,2.3 22.4,1.6 23.3,1.2 24.2,1.1 25.1,1.4 26.0,1.9 26.9,2.7 27.8,3.7 28.7,4.7 29.6,5.6 30.5,6.4 31.4,6.9 32.3,7.2 33.2,7.1 34.1,6.7 35.0,6.0 35.9,5.1 36.8,4.2 37.7,3.2 38.6,2.4 39.4,1.7 40.3,1.3 41.2,1.3 42.1,1.6 43.0,2.1 43.9,2.9 44.8,3.9 45.7,4.9 46.6,5.8 47.5,6.6 48.4,7.1 49.3,7.3 50.2,7.2 51.1,6.8 52.0,6.1 52.9,5.2 53.8,4.2 54.7,3.3 55.6,2.4 56.5,1.8 57.4,1.5 58.3,1.4 59.2,1.7 60.1,2.3 61.0,3.2 61.9,4.1 62.8,5.1 63.7,6.0 64.6,6.8 65.5,7.3 66.4,7.5 67.3,7.3 68.2,6.9 69.1,6.2 70.0,5.3" fill="none" stroke="#c95b5b" stroke-width="1.0"/><polyline points="12.0,-3.5 12.8,-2.7 13.7,-2.2 14.5,-1.8 15.4,-1.8 16.2,-2.1 17.0,-2.6 17.9,-3.3 18.7,-4.1 19.6,-5.0 20.4,-5.8 21.2,-6.5 22.1,-7.0 22.9,-7.2 23.8,-7.2 24.6,-6.8 25.4,-6.2 26.3,-5.4 27.1,-4.5 28.0,-3.5 28.8,-2.5 29.7,-1.7 30.5,-1.1 31.3,-0.7 32.2,-0.6 33.0,-0.8 33.9,-1.3 34.7,-1.9 35.5,-2.8 36.4,-3.6 37.2,-4.5 38.1,-5.2 38.9,-5.7 39.7,-6.0 40.6,-6.0 41.4,-5.7 42.3,-5.2 43.1,-4.4 43.9,-3.5 44.8,-2.5 45.6,-1.6 46.5,-0.7 47.3,-0.0 48.1,0.4 49.0,0.5 49.8,0.4 50.7,0.0 51.5,-0.6 52.3,-1.4 53.2,-2.3 54.0,-3.1 54.9,-3.9 55.7,-4.5 56.6,-4.8 57.4,-4.9 58.2,-4.7 59.1,-4.2 59.9,-3.4 60.8,-2.6 61.6,-1.6 62.4,-0.6 63.3,0.3 64.1,1.0 65.0,1.5 65.8,1.7 66.6,1.6 67.5,1.3 68.3,0.7 69.2,-0.0 70.0,-0.9" fill="none" stroke="#c95b5b" stroke-width="1.0"/><rect x="-17" y="-6.5" width="34" height="13" rx="6.5" fill="#d86a6a" stroke="#c85a5a" stroke-width="0.8"/><line x1="-11" y1="-3" x2="8" y2="-3" stroke="#e89090" stroke-width="1.2" opacity="0.5"/></g>
<g transform="translate(1471,306) rotate(4)"><polyline points="-2.0,-7.0 -0.9,-6.0 0.1,-5.2 1.2,-4.7 2.3,-4.6 3.4,-5.0 4.4,-5.8 5.5,-6.9 6.6,-8.2 7.7,-9.5 8.7,-10.6 9.8,-11.4 10.9,-11.7 11.9,-11.6 13.0,-11.0 14.1,-10.2 15.2,-9.1 16.2,-8.1 17.3,-7.4 18.4,-6.9 19.4,-6.9 20.5,-7.4 21.6,-8.2 22.7,-9.4 23.7,-10.7 24.8,-12.0 25.9,-13.1 27.0,-13.8 28.0,-14.0 29.1,-13.8 30.2,-13.2 31.2,-12.3 32.3,-11.3 33.4,-10.3 34.5,-9.6 35.5,-9.2 36.6,-9.2 37.7,-9.8 38.8,-10.7 39.8,-11.9 40.9,-13.2 42.0,-14.5 43.0,-15.5 44.1,-16.1 45.2,-16.3 46.3,-16.1 47.3,-15.4 48.4,-14.5 49.5,-13.4 50.6,-12.5 51.6,-11.8 52.7,-11.5 53.8,-11.6 54.8,-12.2 55.9,-13.2 57.0,-14.4 58.1,-15.7 59.1,-17.0 60.2,-17.9 61.3,-18.5 62.3,-18.6 63.4,-18.3 64.5,-17.6 65.6,-16.6 66.6,-15.6 67.7,-14.6 68.8,-14.0 69.9,-13.7 70.9,-13.9 72.0,-14.6" fill="none" stroke="#c95b5b" stroke-width="1.0"/><polyline points="4.0,-0.0 5.0,-0.5 6.0,-1.2 7.0,-2.3 7.9,-3.4 8.9,-4.6 9.9,-5.6 10.9,-6.3 11.9,-6.7 12.9,-6.7 13.9,-6.4 14.8,-5.7 15.8,-4.8 16.8,-3.8 17.8,-2.8 18.8,-2.1 19.8,-1.7 20.8,-1.6 21.7,-1.9 22.7,-2.6 23.7,-3.6 24.7,-4.8 25.7,-5.9 26.7,-7.0 27.7,-7.8 28.6,-8.3 29.6,-8.4 30.6,-8.1 31.6,-7.5 32.6,-6.6 33.6,-5.6 34.6,-4.7 35.5,-3.9 36.5,-3.4 37.5,-3.2 38.5,-3.4 39.5,-4.1 40.5,-5.0 41.4,-6.1 42.4,-7.3 43.4,-8.4 44.4,-9.3 45.4,-9.8 46.4,-10.0 47.4,-9.8 48.3,-9.3 49.3,-8.5 50.3,-7.5 51.3,-6.5 52.3,-5.7 53.3,-5.1 54.3,-4.8 55.2,-5.0 56.2,-5.5 57.2,-6.3 58.2,-7.4 59.2,-8.6 60.2,-9.7 61.2,-10.7 62.1,-11.4 63.1,-11.7 64.1,-11.6 65.1,-11.1 66.1,-10.3 67.1,-9.4 68.1,-8.4 69.0,-7.5 70.0,-6.8 71.0,-6.5 72.0,-6.5" fill="none" stroke="#c95b5b" stroke-width="1.0"/><polyline points="-6.0,0.2 -4.9,-0.9 -3.7,-1.8 -2.6,-2.1 -1.5,-2.0 -0.3,-1.4 0.8,-0.4 1.9,0.8 3.0,2.0 4.2,2.9 5.3,3.5 6.4,3.5 7.6,3.0 8.7,2.1 9.8,0.9 11.0,-0.4 12.1,-1.5 13.2,-2.4 14.3,-2.8 15.5,-2.7 16.6,-2.0 17.7,-1.1 18.9,0.1 20.0,1.3 21.1,2.2 22.3,2.8 23.4,2.8 24.5,2.4 25.7,1.5 26.8,0.3 27.9,-1.0 29.0,-2.1 30.2,-3.0 31.3,-3.4 32.4,-3.3 33.6,-2.7 34.7,-1.8 35.8,-0.6 37.0,0.6 38.1,1.5 39.2,2.1 40.3,2.2 41.5,1.8 42.6,0.9 43.7,-0.3 44.9,-1.6 46.0,-2.8 47.1,-3.6 48.3,-4.1 49.4,-4.0 50.5,-3.4 51.7,-2.5 52.8,-1.3 53.9,-0.1 55.0,0.9 56.2,1.5 57.3,1.6 58.4,1.1 59.6,0.3 60.7,-0.9 61.8,-2.2 63.0,-3.4 64.1,-4.3 65.2,-4.7 66.3,-4.7 67.5,-4.1 68.6,-3.1 69.7,-2.0 70.9,-0.8 72.0,0.2" fill="none" stroke="#c95b5b" stroke-width="1.0"/><polyline points="8.0,1.2 8.9,1.8 9.9,2.6 10.8,3.6 11.7,4.6 12.6,5.6 13.6,6.3 14.5,6.9 15.4,7.1 16.3,6.9 17.3,6.4 18.2,5.7 19.1,4.7 20.1,3.7 21.0,2.7 21.9,1.9 22.8,1.4 23.8,1.1 24.7,1.2 25.6,1.7 26.6,2.4 27.5,3.4 28.4,4.4 29.3,5.4 30.3,6.2 31.2,6.9 32.1,7.2 33.0,7.1 34.0,6.7 34.9,6.1 35.8,5.2 36.8,4.2 37.7,3.2 38.6,2.3 39.5,1.6 40.5,1.3 41.4,1.3 42.3,1.6 43.2,2.3 44.2,3.2 45.1,4.2 46.0,5.2 47.0,6.1 47.9,6.8 48.8,7.2 49.7,7.3 50.7,7.0 51.6,6.4 52.5,5.6 53.4,4.6 54.4,3.6 55.3,2.7 56.2,2.0 57.2,1.5 58.1,1.4 59.0,1.6 59.9,2.2 60.9,3.0 61.8,4.0 62.7,5.0 63.7,6.0 64.6,6.8 65.5,7.3 66.4,7.5 67.4,7.3 68.3,6.8 69.2,6.0 70.1,5.1 71.1,4.1 72.0,3.1" fill="none" stroke="#c95b5b" stroke-width="1.0"/><polyline points="12.0,-3.5 12.9,-2.7 13.7,-2.1 14.6,-1.8 15.5,-1.8 16.3,-2.2 17.2,-2.7 18.1,-3.5 19.0,-4.4 19.8,-5.3 20.7,-6.1 21.6,-6.7 22.4,-7.1 23.3,-7.2 24.2,-7.1 25.0,-6.6 25.9,-5.8 26.8,-4.9 27.7,-3.9 28.5,-2.9 29.4,-2.0 30.3,-1.3 31.1,-0.8 32.0,-0.7 32.9,-0.8 33.7,-1.3 34.6,-1.9 35.5,-2.7 36.3,-3.6 37.2,-4.5 38.1,-5.3 39.0,-5.8 39.8,-6.1 40.7,-6.1 41.6,-5.7 42.4,-5.1 43.3,-4.3 44.2,-3.3 45.0,-2.3 45.9,-1.3 46.8,-0.5 47.7,0.1 48.5,0.4 49.4,0.4 50.3,0.2 51.1,-0.4 52.0,-1.1 52.9,-2.0 53.7,-2.9 54.6,-3.7 55.5,-4.4 56.3,-4.8 57.2,-5.0 58.1,-4.8 59.0,-4.4 59.8,-3.6 60.7,-2.7 61.6,-1.7 62.4,-0.7 63.3,0.2 64.2,0.9 65.0,1.4 65.9,1.6 66.8,1.5 67.7,1.1 68.5,0.4 69.4,-0.4 70.3,-1.3 71.1,-2.2 72.0,-2.9" fill="none" stroke="#c95b5b" stroke-width="1.0"/><rect x="-17" y="-6.5" width="34" height="13" rx="6.5" fill="#d86a6a" stroke="#c85a5a" stroke-width="0.8"/><line x1="-11" y1="-3" x2="8" y2="-3" stroke="#e89090" stroke-width="1.2" opacity="0.5"/></g>
<path d="M541.1,430.2 L544.7,428.7 L548.2,427.2 L551.6,425.5 L554.9,423.8 L558.1,421.9 L561.1,420.0 L564.0,418.0 L566.8,415.9 L569.5,413.8 L572.1,411.5 L574.5,409.2 L576.8,406.8 L579.0,404.3 L581.1,401.7 L583.0,399.0 L584.8,396.2 L586.5,393.3 L588.0,390.4 L589.4,387.3 L590.7,384.2 L591.9,381.0 L592.9,377.8 L593.8,374.4 L594.6,371.0 L592.5,370.5 L591.8,373.9 L590.9,377.2 L589.9,380.4 L588.7,383.5 L587.5,386.5 L586.1,389.5 L584.6,392.3 L583.0,395.1 L581.3,397.8 L579.5,400.5 L577.5,403.1 L575.5,405.6 L573.3,408.0 L571.0,410.4 L568.5,412.7 L566.0,414.9 L563.3,417.0 L560.5,419.1 L557.5,421.1 L554.5,423.0 L551.3,424.8 L547.9,426.5 L544.5,428.2 L540.9,429.8 Z" fill="#222222"/>
<path d="M596.0,359.0 L599.8,375.1 L586.1,372.3 Z" fill="#222222"/>
<path d="M628.2,304.1 L630.1,301.1 L632.1,298.1 L634.1,295.3 L636.2,292.5 L638.3,289.9 L640.5,287.5 L642.8,285.1 L645.1,282.9 L647.5,280.7 L649.9,278.7 L652.4,276.8 L654.9,275.1 L657.5,273.4 L660.2,271.9 L662.9,270.5 L665.6,269.1 L668.4,267.9 L671.3,266.8 L674.2,265.8 L677.2,264.9 L680.3,264.1 L683.4,263.4 L686.6,262.9 L689.8,262.4 L689.6,260.3 L686.2,260.8 L683.0,261.4 L679.8,262.0 L676.7,262.8 L673.6,263.8 L670.6,264.8 L667.6,265.9 L664.7,267.2 L661.9,268.6 L659.2,270.2 L656.5,271.8 L653.9,273.6 L651.4,275.5 L648.9,277.5 L646.5,279.6 L644.2,281.9 L641.9,284.2 L639.7,286.7 L637.5,289.3 L635.5,292.0 L633.4,294.8 L631.5,297.7 L629.6,300.7 L627.8,303.9 Z" fill="#222222"/>
<path d="M701.6,260.0 L687.5,268.7 L685.9,254.8 Z" fill="#222222"/>
<path d="M839.0,251.2 L842.3,251.5 L845.6,251.8 L848.8,252.3 L851.8,252.9 L854.7,253.6 L857.6,254.5 L860.3,255.5 L863.0,256.6 L865.5,257.8 L867.9,259.2 L870.3,260.7 L872.5,262.4 L874.7,264.1 L876.7,266.0 L878.6,268.1 L880.5,270.2 L882.3,272.4 L884.0,274.8 L885.6,277.3 L887.1,280.0 L888.5,282.8 L889.8,285.7 L891.1,288.8 L892.2,291.9 L894.2,291.3 L893.0,288.0 L891.8,284.9 L890.4,281.9 L889.0,279.0 L887.4,276.2 L885.7,273.6 L884.0,271.2 L882.1,268.8 L880.2,266.6 L878.1,264.6 L875.9,262.7 L873.6,260.9 L871.2,259.3 L868.7,257.9 L866.2,256.5 L863.5,255.3 L860.8,254.3 L857.9,253.4 L855.0,252.6 L852.0,252.0 L848.9,251.4 L845.7,251.1 L842.4,250.8 L839.0,250.8 Z" fill="#222222"/>
<path d="M897.0,303.0 L885.6,291.0 L898.9,286.6 Z" fill="#222222"/>
<path d="M926.9,393 L928.3,393 L930.7,651 L927.9,651 Z" fill="#222222"/>
<path d="M929.5,665.5 L921.7,650.5 L937.3,650.5 Z" fill="#222222"/>
<path d="M860.1,810.3 L856.4,809.3 L852.7,808.3 L849.2,807.2 L845.7,806.1 L842.3,805.0 L838.9,803.7 L835.6,802.5 L832.4,801.1 L829.3,799.8 L826.2,798.3 L823.2,796.9 L820.3,795.3 L817.4,793.7 L814.6,792.1 L811.9,790.4 L809.2,788.7 L806.6,787.0 L804.0,785.2 L801.6,783.3 L799.1,781.4 L796.8,779.4 L794.5,777.4 L792.3,775.3 L790.2,773.2 L788.7,774.7 L790.8,776.9 L793.1,779.0 L795.4,781.0 L797.8,783.0 L800.3,785.0 L802.8,786.9 L805.4,788.7 L808.1,790.5 L810.8,792.2 L813.6,793.8 L816.5,795.4 L819.4,796.9 L822.5,798.4 L825.5,799.8 L828.7,801.1 L831.9,802.4 L835.2,803.6 L838.5,804.8 L841.9,805.9 L845.4,807.0 L848.9,808.0 L852.5,809.0 L856.2,809.9 L859.9,810.7 Z" fill="#222222"/>
<path d="M781.0,765.4 L796.5,771.2 L786.5,781.0 Z" fill="#222222"/>
<path d="M700.1,693.9 L548.9,532.1 L547.5,533.4 L699.9,694.1 Z" fill="#222222"/>
<path d="M540.0,524.0 L555.2,530.3 L545.4,539.5 Z" fill="#222222"/>
<path d="M1005.0,810.2 L1008.8,809.7 L1012.4,809.0 L1016.0,808.3 L1019.6,807.5 L1023.1,806.6 L1026.5,805.7 L1029.8,804.6 L1033.1,803.5 L1036.4,802.3 L1039.5,801.1 L1042.6,799.7 L1045.7,798.3 L1048.6,796.8 L1051.5,795.2 L1054.4,793.5 L1057.1,791.7 L1059.8,789.9 L1062.4,787.9 L1065.0,785.9 L1067.5,783.8 L1069.9,781.6 L1072.3,779.4 L1074.6,777.1 L1076.8,774.6 L1075.2,773.2 L1073.0,775.6 L1070.8,777.9 L1068.5,780.1 L1066.1,782.2 L1063.7,784.3 L1061.2,786.3 L1058.6,788.2 L1056.0,790.0 L1053.3,791.7 L1050.5,793.5 L1047.7,795.1 L1044.8,796.7 L1041.9,798.2 L1038.9,799.6 L1035.8,801.0 L1032.7,802.2 L1029.4,803.5 L1026.1,804.6 L1022.8,805.6 L1019.4,806.6 L1015.9,807.5 L1012.3,808.3 L1008.7,809.1 L1005.0,809.8 Z" fill="#222222"/>
<path d="M1084.0,765.0 L1079.2,780.8 L1068.8,771.5 Z" fill="#222222"/>
<path d="M1189.1,694.1 L1243.1,642.6 L1241.7,641.2 L1188.9,693.9 Z" fill="#222222"/>
<path d="M1251.0,633.5 L1245.0,648.8 L1235.6,639.1 Z" fill="#222222"/>
<path d="M1322.9,614.2 L1326.1,616.2 L1329.3,618.0 L1332.4,619.6 L1335.6,621.0 L1338.7,622.3 L1341.8,623.4 L1344.9,624.3 L1348.0,625.1 L1351.0,625.7 L1354.0,626.1 L1357.0,626.3 L1360.0,626.3 L1362.9,626.2 L1365.9,625.9 L1368.8,625.4 L1371.7,624.7 L1374.5,623.8 L1377.3,622.7 L1380.1,621.5 L1382.9,620.0 L1385.6,618.4 L1388.3,616.7 L1390.9,614.7 L1393.5,612.6 L1392.2,611.0 L1389.6,613.0 L1387.1,614.9 L1384.5,616.7 L1381.8,618.2 L1379.2,619.6 L1376.5,620.8 L1373.8,621.8 L1371.1,622.7 L1368.3,623.4 L1365.6,623.9 L1362.8,624.3 L1359.9,624.6 L1357.1,624.6 L1354.2,624.5 L1351.2,624.2 L1348.2,623.8 L1345.2,623.1 L1342.2,622.3 L1339.1,621.3 L1336.0,620.2 L1332.8,618.8 L1329.6,617.3 L1326.4,615.6 L1323.1,613.8 Z" fill="#222222"/>
<path d="M1402.0,604.0 L1395.1,619.0 L1386.0,608.4 Z" fill="#222222"/>
<path d="M1490,352 Q1517,385 1515,420 C1513,470 1495,530 1468,564" stroke="#e02424" stroke-width="4.2" stroke-dasharray="8.5 8" fill="none"/>
<path d="M1479,349.5 L1494.5,339.5" stroke="#e02424" stroke-width="4.3" fill="none"/>
<path d="M1257.5,563 L1257.5,586 M1266.5,563 L1266.5,586" stroke="#2b3d86" stroke-width="1.6"/><path d="M1253.5,585 L1270.5,585 L1270.5,611 L1266.5,611 L1262.0,604 L1257.5,611 L1253.5,611 Z" fill="#6a8fd3" stroke="#5577bd" stroke-width="0.8"/><line x1="1262.0" y1="585" x2="1262.0" y2="604" stroke="#5577bd" stroke-width="0.8"/><path d="M1291,563 L1291,586 M1300,563 L1300,586" stroke="#2b3d86" stroke-width="1.6"/><path d="M1287,585 L1304,585 L1304,611 L1300,611 L1295.5,604 L1291,611 L1287,611 Z" fill="#6a8fd3" stroke="#5577bd" stroke-width="0.8"/><line x1="1295.5" y1="585" x2="1295.5" y2="604" stroke="#5577bd" stroke-width="0.8"/>
<circle cx="1429.8" cy="573.5" r="24.5" fill="#a7d3de" stroke="#7eafbf" stroke-width="1"/><circle cx="1425.7" cy="574" r="14" fill="#6fa8b9" stroke="#5f97a8" stroke-width="0.8"/>
<circle cx="1463" cy="598.5" r="24.5" fill="#a7d3de" stroke="#7eafbf" stroke-width="1"/><circle cx="1459" cy="600" r="14.2" fill="#6fa8b9" stroke="#5f97a8" stroke-width="0.8"/>
<circle cx="731.8" cy="704.2" r="4.2" fill="#8cc094"/><circle cx="1126.8" cy="702.7" r="4.2" fill="#8cc094"/><circle cx="758.1" cy="709.3" r="4.2" fill="#8cc094"/><circle cx="1153.1" cy="707.8" r="4.2" fill="#8cc094"/><circle cx="718.2" cy="712.7" r="4.2" fill="#5ea46a"/><circle cx="1113.2" cy="711.2" r="4.2" fill="#5ea46a"/><circle cx="704.6" cy="722.0" r="4.2" fill="#8cc094"/><circle cx="1099.6" cy="720.5" r="4.2" fill="#8cc094"/><circle cx="736.0" cy="720.4" r="4.2" fill="#2f8043"/><circle cx="1131.0" cy="718.9" r="4.2" fill="#2f8043"/><circle cx="751.0" cy="720.4" r="4.2" fill="#8cc094"/><circle cx="1146.0" cy="718.9" r="4.2" fill="#8cc094"/><circle cx="722.4" cy="728.9" r="4.2" fill="#5ea46a"/><circle cx="1117.4" cy="727.4" r="4.2" fill="#5ea46a"/><circle cx="767.5" cy="734.8" r="4.2" fill="#5ea46a"/><circle cx="1162.5" cy="733.3" r="4.2" fill="#5ea46a"/><circle cx="731.8" cy="737.4" r="4.2" fill="#2f8043"/><circle cx="1126.8" cy="735.9" r="4.2" fill="#2f8043"/><circle cx="744.5" cy="734.8" r="4.2" fill="#2f8043"/><circle cx="1139.5" cy="733.3" r="4.2" fill="#2f8043"/><circle cx="708.8" cy="745.9" r="4.2" fill="#8cc094"/><circle cx="1103.8" cy="744.4" r="4.2" fill="#8cc094"/><circle cx="726.7" cy="752.7" r="4.2" fill="#5ea46a"/><circle cx="1121.7" cy="751.2" r="4.2" fill="#5ea46a"/><circle cx="740.3" cy="752.7" r="4.2" fill="#5ea46a"/><circle cx="1135.3" cy="751.2" r="4.2" fill="#5ea46a"/><circle cx="758.1" cy="748.4" r="4.2" fill="#8cc094"/><circle cx="1153.1" cy="746.9" r="4.2" fill="#8cc094"/>
<path d="M926.9,707.5 L925.7,704.9 L924.7,702.4 L923.8,699.8 L923.2,697.4 L922.7,695.0 L922.4,692.6 L922.3,690.3 L922.2,688.1 L922.1,685.9 L922.1,683.8 L922.0,681.8 L922.0,679.8 L922.0,677.9 L922.0,676.1 L922.0,674.4 L922.1,672.7 L917.9,672.5 L917.8,674.3 L917.8,676.1 L917.8,677.9 L917.8,679.9 L917.8,681.8 L917.9,683.9 L917.9,686.0 L918.0,688.2 L918.1,690.5 L918.2,692.8 L918.2,695.2 L918.0,697.7 L917.7,700.3 L917.3,702.9 L916.7,705.7 L915.9,708.5 Z" fill="#8f8dc4" stroke="#7d7bb4" stroke-width="0.7"/><circle cx="920.0" cy="672.6" r="2.1" fill="#8f8dc4"/><path d="M941.6,713.0 L942.0,710.6 L942.5,708.3 L943.0,706.2 L943.7,704.2 L944.4,702.4 L945.3,700.7 L946.2,699.1 L947.1,697.5 L947.9,696.1 L948.7,694.6 L949.5,693.2 L950.2,691.9 L950.9,690.5 L951.5,689.3 L952.1,688.1 L952.7,686.9 L948.9,685.1 L948.4,686.2 L947.8,687.4 L947.2,688.6 L946.5,689.9 L945.8,691.2 L945.1,692.6 L944.3,694.0 L943.4,695.5 L942.6,697.0 L941.6,698.5 L940.5,700.0 L939.3,701.5 L937.8,703.0 L936.2,704.4 L934.4,705.7 L932.4,707.0 Z" fill="#8f8dc4" stroke="#7d7bb4" stroke-width="0.7"/><circle cx="950.8" cy="686.0" r="2.1" fill="#8f8dc4"/><path d="M949.7,716.8 L949.2,715.8 L948.9,714.8 L948.7,713.9 L948.6,713.1 L948.7,712.3 L949.0,711.7 L949.3,711.2 L949.7,710.8 L950.0,710.3 L950.4,709.8 L950.7,709.4 L951.1,709.0 L951.4,708.6 L951.8,708.2 L952.1,707.8 L952.5,707.5 L949.5,704.5 L949.1,704.9 L948.7,705.4 L948.3,705.8 L947.9,706.3 L947.5,706.7 L947.1,707.2 L946.7,707.7 L946.3,708.2 L945.9,708.8 L945.5,709.3 L945.0,709.8 L944.4,710.2 L943.6,710.5 L942.6,710.8 L941.5,711.0 L940.3,711.2 Z" fill="#8f8dc4" stroke="#7d7bb4" stroke-width="0.7"/><circle cx="951.0" cy="706.0" r="2.1" fill="#8f8dc4"/><path d="M953.7,740.5 L955.6,739.2 L957.5,738.1 L959.4,737.2 L961.3,736.4 L963.1,735.7 L965.0,735.2 L966.9,734.8 L968.8,734.5 L970.6,734.0 L972.5,733.6 L974.3,733.1 L976.1,732.7 L977.9,732.2 L979.6,731.7 L981.3,731.1 L983.1,730.6 L981.7,726.6 L980.1,727.1 L978.4,727.7 L976.7,728.1 L975.0,728.6 L973.2,729.1 L971.5,729.5 L969.7,729.9 L967.9,730.3 L966.1,730.7 L964.2,731.1 L962.3,731.3 L960.4,731.3 L958.4,731.1 L956.4,730.8 L954.4,730.3 L952.3,729.5 Z" fill="#8f8dc4" stroke="#7d7bb4" stroke-width="0.7"/><circle cx="982.4" cy="728.6" r="2.1" fill="#8f8dc4"/><path d="M951.7,755.3 L952.9,754.6 L954.1,754.1 L955.1,753.7 L956.2,753.4 L957.1,753.4 L958.0,753.4 L958.8,753.6 L959.6,753.8 L960.4,754.0 L961.1,754.2 L961.9,754.3 L962.6,754.5 L963.2,754.6 L963.9,754.8 L964.5,754.9 L965.0,755.0 L966.0,751.0 L965.4,750.8 L964.8,750.7 L964.2,750.5 L963.5,750.4 L962.8,750.2 L962.1,750.1 L961.4,749.9 L960.6,749.7 L959.8,749.5 L959.0,749.3 L958.2,749.0 L957.4,748.4 L956.6,747.7 L955.8,746.9 L955.1,745.9 L954.3,744.7 Z" fill="#8f8dc4" stroke="#7d7bb4" stroke-width="0.7"/><circle cx="965.5" cy="753.0" r="2.1" fill="#8f8dc4"/><path d="M895.9,713.8 L894.1,714.3 L892.5,714.5 L891.0,714.7 L889.6,714.8 L888.2,714.7 L887.0,714.5 L885.8,714.2 L884.7,713.9 L883.6,713.6 L882.5,713.4 L881.5,713.1 L880.4,713.0 L879.5,712.8 L878.5,712.7 L877.6,712.6 L876.7,712.5 L876.5,716.7 L877.2,716.8 L878.0,716.8 L878.9,717.0 L879.7,717.1 L880.6,717.3 L881.6,717.5 L882.6,717.7 L883.6,717.9 L884.7,718.2 L885.8,718.5 L886.9,719.0 L888.0,719.7 L889.1,720.5 L890.1,721.6 L891.1,722.8 L892.1,724.2 Z" fill="#8f8dc4" stroke="#7d7bb4" stroke-width="0.7"/><circle cx="876.6" cy="714.6" r="2.1" fill="#8f8dc4"/><path d="M891.3,728.5 L889.3,729.4 L887.2,730.1 L885.2,730.6 L883.3,731.0 L881.4,731.3 L879.5,731.3 L877.6,731.3 L875.8,731.3 L874.0,731.2 L872.2,731.2 L870.4,731.2 L868.7,731.2 L866.9,731.3 L865.2,731.3 L863.6,731.3 L861.9,731.4 L862.1,735.6 L863.7,735.5 L865.3,735.5 L867.0,735.5 L868.7,735.4 L870.4,735.4 L872.2,735.4 L873.9,735.4 L875.7,735.5 L877.5,735.5 L879.4,735.6 L881.2,735.8 L883.1,736.2 L885.0,736.7 L886.9,737.5 L888.8,738.4 L890.7,739.5 Z" fill="#8f8dc4" stroke="#7d7bb4" stroke-width="0.7"/><circle cx="862.0" cy="733.5" r="2.1" fill="#8f8dc4"/><path d="M888.7,746.6 L888.7,747.8 L888.7,748.8 L888.6,749.7 L888.5,750.5 L888.2,751.1 L887.9,751.6 L887.5,752.0 L887.1,752.4 L886.7,752.8 L886.4,753.2 L886.0,753.6 L885.7,753.9 L885.4,754.3 L885.1,754.7 L884.9,755.1 L884.6,755.5 L888.2,757.7 L888.4,757.4 L888.5,757.2 L888.8,756.9 L889.0,756.6 L889.2,756.3 L889.5,756.0 L889.8,755.7 L890.1,755.4 L890.4,755.1 L890.8,754.7 L891.2,754.5 L891.8,754.4 L892.5,754.5 L893.3,754.6 L894.3,755.0 L895.3,755.4 Z" fill="#8f8dc4" stroke="#7d7bb4" stroke-width="0.7"/><circle cx="886.4" cy="756.6" r="2.1" fill="#8f8dc4"/><path d="M897.4,757.1 L896.0,759.0 L894.5,760.7 L893.1,762.3 L891.5,763.7 L890.0,764.9 L888.3,766.0 L886.7,767.0 L885.1,767.9 L883.5,768.9 L881.9,769.8 L880.4,770.7 L878.9,771.7 L877.5,772.6 L876.1,773.5 L874.7,774.4 L873.3,775.3 L875.7,778.7 L877.0,777.9 L878.3,777.0 L879.7,776.1 L881.1,775.2 L882.6,774.3 L884.1,773.4 L885.6,772.5 L887.2,771.6 L888.8,770.6 L890.4,769.7 L892.2,768.9 L894.0,768.2 L896.0,767.6 L898.1,767.2 L900.3,767.0 L902.6,766.9 Z" fill="#8f8dc4" stroke="#7d7bb4" stroke-width="0.7"/><circle cx="874.5" cy="777.0" r="2.1" fill="#8f8dc4"/><path d="M906.3,766.1 L906.5,767.6 L906.6,769.0 L906.6,770.3 L906.5,771.5 L906.2,772.6 L905.8,773.5 L905.4,774.4 L904.9,775.2 L904.5,776.0 L904.1,776.8 L903.7,777.5 L903.3,778.3 L903.0,779.0 L902.6,779.7 L902.3,780.3 L902.1,781.0 L905.9,782.6 L906.2,782.0 L906.5,781.4 L906.8,780.8 L907.1,780.1 L907.4,779.4 L907.8,778.7 L908.2,778.0 L908.6,777.2 L909.0,776.4 L909.5,775.6 L910.1,774.8 L910.9,774.1 L911.9,773.5 L913.0,772.9 L914.2,772.4 L915.7,771.9 Z" fill="#8f8dc4" stroke="#7d7bb4" stroke-width="0.7"/><circle cx="904.0" cy="781.8" r="2.1" fill="#8f8dc4"/><path d="M938.1,770.9 L940.0,771.4 L941.8,772.0 L943.4,772.8 L944.8,773.6 L946.1,774.5 L947.2,775.6 L948.2,776.7 L949.2,777.8 L950.1,778.8 L950.9,779.9 L951.7,780.9 L952.5,781.9 L953.3,782.9 L954.0,783.9 L954.6,784.8 L955.2,785.8 L958.8,783.4 L958.1,782.5 L957.4,781.4 L956.6,780.4 L955.9,779.4 L955.0,778.3 L954.2,777.2 L953.3,776.1 L952.3,775.0 L951.4,773.9 L950.4,772.8 L949.4,771.5 L948.6,770.1 L947.8,768.6 L947.1,766.9 L946.5,765.1 L945.9,763.1 Z" fill="#8f8dc4" stroke="#7d7bb4" stroke-width="0.7"/><circle cx="957.0" cy="784.6" r="2.1" fill="#8f8dc4"/><path d="M920.9,704.0 C925.9,703.6 932.9,704.9 937.0,705.5 C941.2,706.0 943.2,705.5 945.6,707.4 C948.0,709.3 949.6,713.1 951.3,716.9 C953.0,720.7 955.0,726.5 956.0,730.2 C957.1,733.8 957.5,735.7 957.5,738.7 C957.5,741.7 956.6,745.4 956.0,748.2 C955.5,751.1 955.7,753.3 954.1,755.8 C952.6,758.4 948.8,760.9 946.5,763.4 C944.3,766.0 944.5,769.3 940.8,771.0 C937.2,772.8 929.6,773.9 924.7,773.9 C919.8,773.9 915.3,772.5 911.4,771.0 C907.4,769.6 903.9,767.2 900.9,765.3 C897.9,763.4 895.3,762.0 893.3,759.6 C891.3,757.3 889.9,754.3 889.0,751.1 C888.2,747.9 888.4,743.6 888.1,740.6 C887.8,737.6 887.0,736.0 887.1,733.0 C887.3,730.0 887.8,725.7 889.0,722.6 C890.2,719.4 891.3,716.5 894.3,714.0 C897.2,711.6 902.2,709.5 906.6,707.8 C911.1,706.2 915.8,704.4 920.9,704.0 Z" fill="#8f8dc4" stroke="none"/><g transform="translate(926.6,741.6) rotate(-45)"><ellipse cx="0" cy="0" rx="19.5" ry="17" fill="#63609a" stroke="#55528b" stroke-width="0.8"/></g>
<ellipse cx="926" cy="826.5" rx="48" ry="49.5" fill="#f9d6aa" stroke="#cf8c55" stroke-width="1.2"/><circle cx="909.5" cy="860.4" r="3.4" fill="#f1c093"/><circle cx="963.2" cy="841.1" r="2.5" fill="#f1c093"/><circle cx="893.0" cy="841.6" r="2.5" fill="#f1c093"/><circle cx="932.8" cy="868.0" r="3.9" fill="#f1c093"/><circle cx="891.6" cy="807.9" r="4.0" fill="#f1c093"/><circle cx="940.9" cy="791.6" r="3.3" fill="#f1c093"/><circle cx="901.2" cy="796.0" r="3.3" fill="#f1c093"/><circle cx="909.4" cy="790.0" r="2.9" fill="#f1c093"/><circle cx="921.1" cy="787.7" r="4.0" fill="#f1c093"/><circle cx="948.9" cy="859.8" r="2.5" fill="#f1c093"/><circle cx="953.1" cy="798.8" r="3.5" fill="#f1c093"/><circle cx="965.0" cy="832.2" r="2.7" fill="#f1c093"/><circle cx="898.8" cy="860.9" r="3.9" fill="#f1c093"/><circle cx="934.0" cy="783.1" r="3.7" fill="#f1c093"/><circle cx="895.7" cy="851.6" r="2.6" fill="#f1c093"/><circle cx="887.3" cy="835.2" r="2.5" fill="#f1c093"/><circle cx="964.1" cy="814.0" r="2.6" fill="#f1c093"/><circle cx="887.7" cy="822.1" r="2.4" fill="#f1c093"/><circle cx="918.5" cy="864.4" r="2.9" fill="#f1c093"/><circle cx="959.7" cy="853.4" r="3.3" fill="#f1c093"/><circle cx="963.4" cy="803.5" r="2.6" fill="#f1c093"/><circle cx="969.0" cy="823.8" r="3.1" fill="#f1c093"/><circle cx="950.5" cy="789.7" r="2.7" fill="#f1c093"/><circle cx="944.1" cy="867.2" r="3.0" fill="#f1c093"/><circle cx="887.1" cy="847.7" r="2.4" fill="#f1c093"/><circle cx="892.1" cy="798.1" r="2.6" fill="#f1c093"/><circle cx="931" cy="831.5" r="30" fill="#f3b78d" stroke="#e8a87c" stroke-width="0.8"/>
<text transform="translate(165.57,32.10) scale(0.9764,1)" x="0" y="0">Lumen</text><text transform="translate(164.97,120.70) scale(1.0103,1)" x="0" y="0">Microbiota</text><text transform="translate(468.00,190.40) scale(0.9597,1)" x="0" y="0">APOL9-Cer1P interaction</text><text transform="translate(842.90,237.50) scale(0.9323,1)" x="0" y="0">Bacteroidales</text><text transform="translate(1343.29,219.60) scale(1.0043,1)" x="0" y="0">Stm infection</text><text transform="translate(164.44,346.00) scale(1.0194,1)" x="0" y="0">Mucus</text><text transform="translate(965.38,349.60) scale(0.9602,1)" x="0" y="0">OMVs</text><text transform="translate(547.80,469.20) scale(0.9198,1)" x="0" y="0">APOL9</text><text transform="translate(167.03,611.60) scale(0.9912,1)" x="0" y="0">Epithelial cells</text><text transform="translate(1124.14,606.00) scale(0.9541,1)" x="0" y="0">MHC-II</text><text transform="translate(828.50,700.00) scale(0.9122,1)" x="0" y="0">APC</text><text transform="translate(610.77,748.40) scale(0.9419,1)" x="0" y="0">IFNγ</text><text transform="translate(1134.85,805.70) scale(0.9500,1)" x="0" y="0">IFNγ</text><text transform="translate(880.00,923.60) scale(0.9952,1)" x="0" y="0">T cell</text><text transform="translate(165.08,968.00) scale(0.9730,1)" x="0" y="0">Lamina propria</text><text transform="translate(1322.86,681.70) scale(0.9214,1)" x="0" y="0">CD4</text><text transform="translate(1401.42,681.70) scale(0.9420,1)" x="0" y="0">CD8αα</text><text transform="translate(1530.34,681.70) scale(0.8882,1)" x="0" y="0">IEL</text>
<path d="M1390.8,663.7 L1401.7,663.7 M1396.25,658.8 L1396.25,668.6 M1510.3,664.4 L1520.5,664.4 M1515.4,659.6 L1515.4,669.2" stroke="#000" stroke-width="1.7"/>
</svg></body></html>
